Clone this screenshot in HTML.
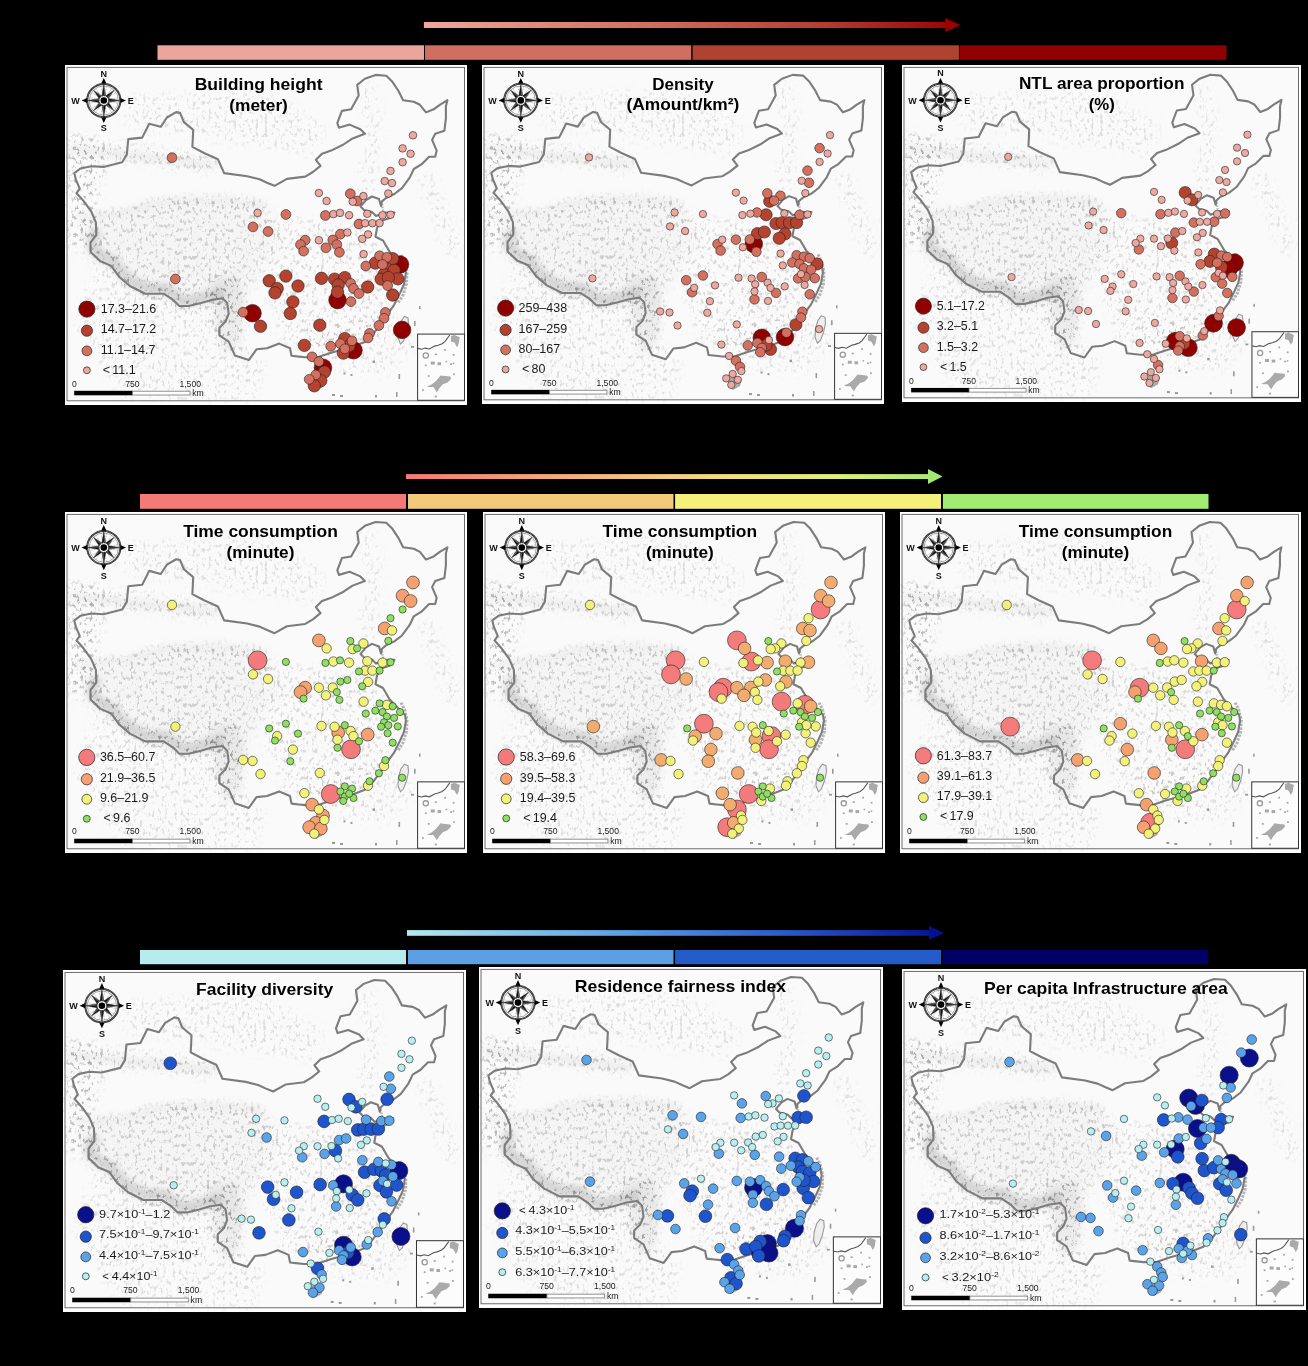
<!DOCTYPE html>
<html><head><meta charset="utf-8"><style>
html,body{margin:0;padding:0;background:#000;}
body{width:1308px;height:1366px;overflow:hidden;}
svg{display:block;}
</style></head><body>
<svg width="1308" height="1366" viewBox="0 0 1308 1366">
<rect width="1308" height="1366" fill="#000"/>
<defs><filter id="bl3" x="-20%" y="-20%" width="140%" height="140%"><feGaussianBlur stdDeviation="3"/></filter><filter id="bl6" x="-20%" y="-20%" width="140%" height="140%"><feGaussianBlur stdDeviation="6"/></filter><filter id="grain" x="0" y="0" width="402" height="340" filterUnits="userSpaceOnUse"><feGaussianBlur in="SourceGraphic" stdDeviation="5" result="m"/><feTurbulence type="fractalNoise" baseFrequency="0.32 0.22" numOctaves="3" seed="11" result="n"/><feColorMatrix in="n" type="matrix" values="0 0 0 0 0.36  0 0 0 0 0.34  0 0 0 0 0.33  -5.5 0 0 0 2.45" result="g"/><feComposite in="g" in2="m" operator="in"/></filter><g id="base">
<rect x="0" y="0" width="402" height="340" fill="#fff"/>
<rect x="2" y="2.4" width="397.5" height="333.4" fill="#fafafa"/>
<g filter="url(#grain)">
<polygon points="12,151 23,149 45,148 61,146 80,140 99,135.5 125,134 153,134 175,135 199,138.5 210,160 214,178 200,195 190,215 178,240 170,262 163,250 157.5,233.3 146.7,234.9 135.9,238 123.6,241 114.3,241 108.1,234.9 98.8,228.7 80.3,228.7 64.9,221 54.1,211.7 46.3,200.9 35.5,196.3 25.5,187 25.5,177.7 31.3,169.9 22,165 12,150" fill="#000" opacity="0.42"/>
<polygon points="3,70 30,72 40,100 30,140 20,175 3,190" fill="#000" opacity="0.7"/>
<polyline points="5,82 40,86 80,90 120,95 150,100" fill="none" stroke="#000" stroke-width="16" opacity="0.55"/>
<polygon points="60,30 200,25 260,60 250,90 180,80 120,70 60,60" fill="#000" opacity="0.3"/>
<polygon points="200,150 300,160 330,200 320,260 280,290 220,280 200,230" fill="#000" opacity="0.35"/>
<polygon points="30,200 150,245 200,300 190,335 60,335 10,260" fill="#000" opacity="0.3"/>
<polygon points="240,260 330,250 350,280 320,310 250,305" fill="#000" opacity="0.3"/>
<polyline points="300,20 310,60 305,100 300,130" fill="none" stroke="#000" stroke-width="16" opacity="0.3"/>
<polyline points="360,110 375,150 390,190" fill="none" stroke="#000" stroke-width="16" opacity="0.3"/>
<polyline points="405,150 425,200 440,250" fill="none" stroke="#000" stroke-width="14" opacity="0.25"/>
<polyline points="32.3,165.9 26.5,173.7 26.5,183 36.5,192.3 47.3,196.9 55.1,207.7 65.9,217 81.3,224.7 99.8,224.7 109.1,230.9 115.3,237 124.6,237 136.9,234 147.7,230.9 158.5,229.3" fill="none" stroke="#000" stroke-width="12" opacity="0.9"/>
<polyline points="12,154 23,152 45,151 61,149 80,143 99,138.5 125,137 153,137 175,138 199,141.5" fill="none" stroke="#000" stroke-width="7" opacity="0.75"/>
<polygon points="145,215 172,210 180,240 175,280 160,290 150,260" fill="#000" opacity="0.8"/>
</g>
<g filter="url(#bl6)">
<polygon points="12,151 23,149 45,148 61,146 80,140 99,135.5 125,134 153,134 175,135 199,138.5 210,160 214,178 200,195 190,215 178,240 170,262 163,250 157.5,233.3 146.7,234.9 135.9,238 123.6,241 114.3,241 108.1,234.9 98.8,228.7 80.3,228.7 64.9,221 54.1,211.7 46.3,200.9 35.5,196.3 25.5,187 25.5,177.7 31.3,169.9 22,165 12,150" fill="#000" opacity="0.02"/>
</g>
<g filter="url(#bl3)">
<polyline points="32.8,164.9 27.0,172.7 27.0,182 37.0,191.3 47.8,195.9 55.6,206.7 66.4,216 81.8,223.7 100.3,223.7 109.6,229.9 115.8,236 125.1,236 137.4,233 148.2,229.9 159.0,228.3" fill="none" stroke="#000" stroke-width="10" opacity="0.14"/>
<polyline points="12,152.5 23,150.5 45,149.5 61,147.5 80,141.5 99,137.0 125,135.5 153,135.5 175,136.5 199,140.0" fill="none" stroke="#000" stroke-width="3" opacity="0.07"/>
<polyline points="5,84 40,88 80,92 120,96 150,100" fill="none" stroke="#000" stroke-width="8" opacity="0.05"/>
<polygon points="145,215 172,210 180,240 175,280 160,290 150,260" fill="#000" opacity="0.05"/>
</g>
<path d="M339.5,251.5 L343,253 L343.5,259 L341.5,268 L338.5,276 L335.5,279 L333,273 L333.5,264 L336,256 Z" fill="#eee" stroke="#999" stroke-width="1.1"/>
<path d="M247,314 L255,312 L260,315 L258,322 L251,326 L246,322 Z" fill="#aaa"/>
<rect x="354" y="241" width="1.6" height="3" fill="#999"/>
<rect x="349" y="256" width="1.6" height="5" fill="#999"/>
<rect x="346" y="281" width="3" height="1.8" fill="#999"/>
<rect x="307.5" y="295.5" width="2.5" height="2.5" fill="#999"/>
<rect x="333.5" y="309" width="1.6" height="5" fill="#999"/>
<rect x="278.5" y="307.5" width="2" height="2" fill="#999"/>
<rect x="285.5" y="309" width="2" height="2" fill="#999"/>
<rect x="310" y="330" width="2" height="2.5" fill="#999"/>
<rect x="331" y="327" width="1.5" height="5" fill="#999"/>
<rect x="267" y="329" width="3" height="2" fill="#999"/>
<rect x="275" y="330" width="3" height="2" fill="#999"/>
<polyline points="336,190 339.5,197 342,207 341.5,219 338,230 333,238" fill="none" stroke="#b4b4b4" stroke-width="3" stroke-dasharray="2.5 1.2"/>
<polyline points="317,139 318,145 319,151" fill="none" stroke="#b4b4b4" stroke-width="2.2" stroke-dasharray="1.5 1.2"/>
<polygon points="9.3,108.1 15.4,103.5 26.3,101.2 38.6,101.9 57.1,97.3 61.8,89.6 63.3,74.1 77.2,72.6 84.2,58.7 95.8,61.8 101.9,52.5 111.2,47.1 115.1,47.9 118.9,57.1 128.2,64.9 127.4,81.9 139,88 152.9,94.2 159.1,108.1 182.2,111.2 194.6,114.3 202,117.7 209.6,120.8 221.9,113.9 240.2,111.6 247.9,107 255.5,100.9 250.9,94.8 257,88.7 266.2,85.6 278.5,79.5 287.6,73.4 299.9,68.8 295.3,64.2 284.6,59.6 273.9,62.7 272.3,58.1 276.9,45.9 286.1,44.3 293.7,30.6 292.2,19.9 299.9,13.8 310.6,9.9 321.3,10.7 327.4,16.8 333.5,26 338.1,35.2 348.8,36.7 354.9,39.8 361,47.4 368.7,44.3 374.8,39.8 382.4,35.2 380.9,41.3 380.9,53.5 379.4,65.7 370.2,68.8 367.1,74.9 371.7,85.6 370.2,91.7 364.1,91.7 356.4,99.4 348.8,104 344.7,112.6 337,123.1 329.4,129 321,133 317,136.4 316,141 314,134 307,131.5 301,135 295.5,141.5 299,145 307,147 311,151 320,147.5 329.5,147.5 325,153 316,156 312,163 310.5,171.7 318,175.5 324.7,186.9 331.3,193.6 339.9,202.1 340.9,207.9 339,219.3 335,228.1 328.9,240.3 324.3,246.5 318.2,255.6 309,267.9 299.9,277 287.6,281.6 266.2,287.7 252.5,292.3 240.2,292.3 226.5,290.8 225,283.2 214.2,278.6 202,283.2 191.5,284.3 183.8,295.1 169.9,290.5 163.7,276.6 154.4,270.4 154.4,262.7 160.6,256.5 163.7,248.8 162.2,238 157.5,233.3 146.7,234.9 135.9,238 123.6,241 114.3,241 108.1,234.9 98.8,228.7 80.3,228.7 64.9,221 54.1,211.7 46.3,200.9 35.5,196.3 25.5,187 25.5,177.7 31.3,169.9 30.9,157.5 26.3,146.7 18.5,135.9 11.6,128.2 14.7,123.6 10.8,114.3" fill="none" stroke="#7c7c7c" stroke-width="2.1" stroke-linejoin="round"/>
<rect x="2" y="2.4" width="397.5" height="333.4" fill="none" stroke="#6a6a6a" stroke-width="1"/>
<circle cx="38.8" cy="35.5" r="16.6" fill="#fff" stroke="#333" stroke-width="2.0"/>
<circle cx="38.8" cy="35.5" r="16.6" fill="none" stroke="#ddd" stroke-width="0.5" stroke-dasharray="0.7 0.9"/>
<circle cx="38.8" cy="35.5" r="14.6" fill="none" stroke="#555" stroke-width="0.5"/>
<line x1="44.68" y1="36.67" x2="53.02" y2="38.33" stroke="#666" stroke-width="0.5" stroke-dasharray="0.8 0.8"/>
<line x1="43.79" y1="38.83" x2="50.86" y2="43.56" stroke="#666" stroke-width="0.5" stroke-dasharray="0.8 0.8"/>
<line x1="42.13" y1="40.49" x2="46.86" y2="47.56" stroke="#666" stroke-width="0.5" stroke-dasharray="0.8 0.8"/>
<line x1="39.97" y1="41.38" x2="41.63" y2="49.72" stroke="#666" stroke-width="0.5" stroke-dasharray="0.8 0.8"/>
<line x1="37.63" y1="41.38" x2="35.97" y2="49.72" stroke="#666" stroke-width="0.5" stroke-dasharray="0.8 0.8"/>
<line x1="35.47" y1="40.49" x2="30.74" y2="47.56" stroke="#666" stroke-width="0.5" stroke-dasharray="0.8 0.8"/>
<line x1="33.81" y1="38.83" x2="26.74" y2="43.56" stroke="#666" stroke-width="0.5" stroke-dasharray="0.8 0.8"/>
<line x1="32.92" y1="36.67" x2="24.58" y2="38.33" stroke="#666" stroke-width="0.5" stroke-dasharray="0.8 0.8"/>
<line x1="32.92" y1="34.33" x2="24.58" y2="32.67" stroke="#666" stroke-width="0.5" stroke-dasharray="0.8 0.8"/>
<line x1="33.81" y1="32.17" x2="26.74" y2="27.44" stroke="#666" stroke-width="0.5" stroke-dasharray="0.8 0.8"/>
<line x1="35.47" y1="30.51" x2="30.74" y2="23.44" stroke="#666" stroke-width="0.5" stroke-dasharray="0.8 0.8"/>
<line x1="37.63" y1="29.62" x2="35.97" y2="21.28" stroke="#666" stroke-width="0.5" stroke-dasharray="0.8 0.8"/>
<line x1="39.97" y1="29.62" x2="41.63" y2="21.28" stroke="#666" stroke-width="0.5" stroke-dasharray="0.8 0.8"/>
<line x1="42.13" y1="30.51" x2="46.86" y2="23.44" stroke="#666" stroke-width="0.5" stroke-dasharray="0.8 0.8"/>
<line x1="43.79" y1="32.17" x2="50.86" y2="27.44" stroke="#666" stroke-width="0.5" stroke-dasharray="0.8 0.8"/>
<line x1="44.68" y1="34.33" x2="53.02" y2="32.67" stroke="#666" stroke-width="0.5" stroke-dasharray="0.8 0.8"/>
<polygon points="38.8,19.5 40.71,30.88 49.12,25.18 43.42,33.59 54.8,35.5 43.42,37.41 49.12,45.82 40.71,40.12 38.8,51.5 36.89,40.12 28.48,45.82 34.18,37.41 22.8,35.5 34.18,33.59 28.48,25.18 36.89,30.88" fill="#111" stroke="#111" stroke-width="0.4" stroke-linejoin="miter"/>
<polygon points="38.80,19.50 40.71,30.88 38.80,33.50" fill="#fff" opacity="0.28"/>
<polygon points="49.12,25.18 43.42,33.59 40.21,34.09" fill="#fff" opacity="0.28"/>
<polygon points="54.80,35.50 43.42,37.41 40.80,35.50" fill="#fff" opacity="0.28"/>
<polygon points="49.12,45.82 40.71,40.12 40.21,36.91" fill="#fff" opacity="0.28"/>
<polygon points="38.80,51.50 36.89,40.12 38.80,37.50" fill="#fff" opacity="0.28"/>
<polygon points="28.48,45.82 34.18,37.41 37.39,36.91" fill="#fff" opacity="0.28"/>
<polygon points="22.80,35.50 34.18,33.59 36.80,35.50" fill="#fff" opacity="0.28"/>
<polygon points="28.48,25.18 36.89,30.88 37.39,34.09" fill="#fff" opacity="0.28"/>
<circle cx="38.8" cy="35.5" r="5.0" fill="#fff" stroke="#222" stroke-width="0.6"/>
<circle cx="38.8" cy="35.5" r="5.0" fill="none" stroke="#333" stroke-width="1.2" stroke-dasharray="0.9 1.2"/>
<circle cx="38.8" cy="35.5" r="3.3" fill="#000"/>
<polygon points="38.8,13.0 36.199999999999996,18.6 41.4,18.6" fill="#000"/>
<polygon points="38.8,58.0 36.199999999999996,52.4 41.4,52.4" fill="#000"/>
<polygon points="16.6,35.5 22.2,32.9 22.2,38.1" fill="#000"/>
<polygon points="61.0,35.5 55.4,32.9 55.4,38.1" fill="#000"/>
<text x="38.8" y="11.6" text-anchor="middle" style="font-family:'Liberation Sans', sans-serif;font-weight:bold;font-size:9px;fill:#111">N</text>
<text x="38.8" y="66.4" text-anchor="middle" style="font-family:'Liberation Sans', sans-serif;font-weight:bold;font-size:9px;fill:#111">S</text>
<text x="10.6" y="39.1" text-anchor="middle" style="font-family:'Liberation Sans', sans-serif;font-weight:bold;font-size:9px;fill:#111">W</text>
<text x="65.7" y="39.1" text-anchor="middle" style="font-family:'Liberation Sans', sans-serif;font-weight:bold;font-size:9px;fill:#111">E</text>
<rect x="352.6" y="269.1" width="46.89999999999998" height="66.19999999999999" fill="#fcfcfc"/>
<polyline points="352.9,283.4 356.7,284.2 360.2,283.1 364.3,284 369.6,281.1 373.1,280.2 377.2,278.7 380.1,276.4 383.1,272.3 384.8,270" fill="none" stroke="#555" stroke-width="1.1"/>
<polygon points="385.9,271.1 389.4,270 394.8,272.3 393.6,279.3 391.9,282.3 389.4,277.6 385.9,276.4" fill="#aaa"/>
<circle cx="360.8" cy="290.5" r="2.6" fill="none" stroke="#999" stroke-width="1.3"/>
<rect x="369.7" y="288.5" width="2.2" height="1.6" fill="#a8a8a8"/>
<rect x="379.2" y="284.0" width="1.8" height="1.8" fill="#a8a8a8"/>
<rect x="387.7" y="289.0" width="1.8" height="1.8" fill="#a8a8a8"/>
<rect x="365.8" y="296.6" width="4" height="3" fill="#a8a8a8"/>
<rect x="372.5" y="297.2" width="3.6" height="3" fill="#a8a8a8"/>
<rect x="380.5" y="295.8" width="1.6" height="1.6" fill="#a8a8a8"/>
<rect x="385.0" y="298.4" width="2" height="1.6" fill="#a8a8a8"/>
<rect x="387.6" y="297.6" width="1.6" height="1.6" fill="#a8a8a8"/>
<rect x="359.9" y="299.5" width="1.8" height="1.8" fill="#a8a8a8"/>
<rect x="362.8" y="310.1" width="1.8" height="1.8" fill="#a8a8a8"/>
<rect x="388.0" y="308.3" width="1.8" height="1.8" fill="#a8a8a8"/>
<rect x="369.7" y="330.6" width="2.2" height="1.8" fill="#a8a8a8"/>
<rect x="357.0" y="324.1" width="1.8" height="1.8" fill="#a8a8a8"/>
<polygon points="362,321.5 366.1,319.8 370.8,316.2 375.5,310.4 380.1,311 385.4,311.6 386,313.9 382.5,317.4 377.8,319.2 374.3,323.3 371.9,327.4 370.8,325.6 368.4,322.1 363.7,322.1" fill="#aaa"/>
<rect x="352.6" y="269.1" width="46.89999999999998" height="66.19999999999999" fill="none" stroke="#333" stroke-width="1"/>
<rect x="9.2" y="325.8" width="58.4" height="4.5" fill="#000"/>
<rect x="67.6" y="326.2" width="57.4" height="3.8" fill="#fff" stroke="#777" stroke-width="0.8"/>
<text x="9.4" y="321.5" text-anchor="middle" style="font-family:'Liberation Sans', sans-serif;font-size:8.6px;fill:#222">0</text>
<text x="67.3" y="321.5" text-anchor="middle" style="font-family:'Liberation Sans', sans-serif;font-size:8.6px;fill:#222">750</text>
<text x="125.2" y="321.5" text-anchor="middle" style="font-family:'Liberation Sans', sans-serif;font-size:8.6px;fill:#222">1,500</text>
<text x="127.3" y="330.8" style="font-family:'Liberation Sans', sans-serif;font-size:8.6px;fill:#222">km</text>
</g></defs>
<defs>
<linearGradient id="g1" gradientUnits="userSpaceOnUse" x1="424" y1="0" x2="960" y2="0"><stop offset="0" stop-color="#eda79c"/><stop offset="0.45" stop-color="#cf6a59"/><stop offset="0.75" stop-color="#b23d2f"/><stop offset="1" stop-color="#990000"/></linearGradient>
<linearGradient id="g2" gradientUnits="userSpaceOnUse" x1="406" y1="0" x2="942" y2="0"><stop offset="0" stop-color="#f47a76"/><stop offset="0.35" stop-color="#f3b878"/><stop offset="0.6" stop-color="#f3e07a"/><stop offset="0.8" stop-color="#e2ef78"/><stop offset="1" stop-color="#a2e873"/></linearGradient>
<linearGradient id="g3" gradientUnits="userSpaceOnUse" x1="407" y1="0" x2="944" y2="0"><stop offset="0" stop-color="#b3eaec"/><stop offset="0.4" stop-color="#5ca0e3"/><stop offset="0.7" stop-color="#2a5bc9"/><stop offset="1" stop-color="#05108c"/></linearGradient>
</defs>
<rect x="157.5" y="45.3" width="266.5" height="14.5" fill="#eba59b"/>
<rect x="425" y="45.3" width="266.20000000000005" height="14.5" fill="#d06f5f"/>
<rect x="692.6" y="45.3" width="266.4" height="14.5" fill="#b04232"/>
<rect x="960" y="45.3" width="266.4000000000001" height="14.5" fill="#900000"/>
<rect x="423.9" y="22" width="522" height="6" fill="url(#g1)"/>
<polygon points="945.3,18 960.5,25 945.3,32" fill="#990000"/>
<rect x="140" y="494" width="266" height="14.8" fill="#f47a78"/>
<rect x="408" y="494" width="265.5" height="14.8" fill="#f3c97a"/>
<rect x="675.1" y="494" width="265.9" height="14.8" fill="#f3f17a"/>
<rect x="942.9" y="494" width="265.6" height="14.8" fill="#a0ed72"/>
<rect x="406" y="474.1" width="523" height="4.9" fill="url(#g2)"/>
<polygon points="928,469 942.5,476.5 928,484" fill="#a4e874"/>
<rect x="140" y="950" width="266" height="14.2" fill="#b6ecee"/>
<rect x="408" y="950" width="265.5" height="14.2" fill="#5ca0e3"/>
<rect x="675.1" y="950" width="265.9" height="14.2" fill="#235bc9"/>
<rect x="942.9" y="950" width="265.4" height="14.2" fill="#000066"/>
<rect x="407" y="930.1" width="523" height="5.7" fill="url(#g3)"/>
<polygon points="929,926 944,933 929,940" fill="#05108c"/>
<g transform="translate(65,65) scale(1.0000,1.0000)">
<use href="#base"/>
<circle cx="187.5" cy="248.2" r="8.8" fill="#900000" stroke="#222" stroke-width="0.6"/>
<circle cx="272.5" cy="235.1" r="8.8" fill="#900000" stroke="#222" stroke-width="0.6"/>
<circle cx="335" cy="199.5" r="8.8" fill="#900000" stroke="#222" stroke-width="0.6"/>
<circle cx="337.1" cy="264.9" r="8.8" fill="#900000" stroke="#222" stroke-width="0.6"/>
<circle cx="288.5" cy="285.2" r="8.8" fill="#900000" stroke="#222" stroke-width="0.6"/>
<circle cx="258" cy="302.7" r="8.8" fill="#900000" stroke="#222" stroke-width="0.6"/>
<circle cx="204.2" cy="215.8" r="6.2" fill="#b5412f" stroke="#222" stroke-width="0.6"/>
<circle cx="220.9" cy="211.1" r="6.2" fill="#b5412f" stroke="#222" stroke-width="0.6"/>
<circle cx="212.2" cy="223.5" r="6.2" fill="#b5412f" stroke="#222" stroke-width="0.6"/>
<circle cx="210" cy="227.9" r="6.2" fill="#b5412f" stroke="#222" stroke-width="0.6"/>
<circle cx="233" cy="221" r="6.2" fill="#b5412f" stroke="#222" stroke-width="0.6"/>
<circle cx="227.9" cy="236.9" r="6.2" fill="#b5412f" stroke="#222" stroke-width="0.6"/>
<circle cx="225.3" cy="248.5" r="6.2" fill="#b5412f" stroke="#222" stroke-width="0.6"/>
<circle cx="195.5" cy="261.3" r="6.2" fill="#b5412f" stroke="#222" stroke-width="0.6"/>
<circle cx="256.5" cy="213.3" r="6.2" fill="#b5412f" stroke="#222" stroke-width="0.6"/>
<circle cx="269.6" cy="214.1" r="6.2" fill="#b5412f" stroke="#222" stroke-width="0.6"/>
<circle cx="279.8" cy="212.6" r="6.2" fill="#b5412f" stroke="#222" stroke-width="0.6"/>
<circle cx="273.2" cy="219.9" r="6.2" fill="#b5412f" stroke="#222" stroke-width="0.6"/>
<circle cx="272.5" cy="227.1" r="6.2" fill="#b5412f" stroke="#222" stroke-width="0.6"/>
<circle cx="302.7" cy="222" r="6.2" fill="#b5412f" stroke="#222" stroke-width="0.6"/>
<circle cx="327.7" cy="193.7" r="6.2" fill="#b5412f" stroke="#222" stroke-width="0.6"/>
<circle cx="310.3" cy="198.1" r="6.2" fill="#b5412f" stroke="#222" stroke-width="0.6"/>
<circle cx="321.9" cy="203.9" r="6.2" fill="#b5412f" stroke="#222" stroke-width="0.6"/>
<circle cx="319" cy="209.7" r="6.2" fill="#b5412f" stroke="#222" stroke-width="0.6"/>
<circle cx="329.1" cy="205.3" r="6.2" fill="#b5412f" stroke="#222" stroke-width="0.6"/>
<circle cx="316.1" cy="214.1" r="6.2" fill="#b5412f" stroke="#222" stroke-width="0.6"/>
<circle cx="332.8" cy="213.8" r="6.2" fill="#b5412f" stroke="#222" stroke-width="0.6"/>
<circle cx="327.7" cy="230" r="6.2" fill="#b5412f" stroke="#222" stroke-width="0.6"/>
<circle cx="323.3" cy="212.6" r="6.2" fill="#b5412f" stroke="#222" stroke-width="0.6"/>
<circle cx="254.8" cy="260.2" r="6.2" fill="#b5412f" stroke="#222" stroke-width="0.6"/>
<circle cx="239.4" cy="280.4" r="6.2" fill="#b5412f" stroke="#222" stroke-width="0.6"/>
<circle cx="279.8" cy="273.6" r="6.2" fill="#b5412f" stroke="#222" stroke-width="0.6"/>
<circle cx="278.3" cy="288.1" r="6.2" fill="#b5412f" stroke="#222" stroke-width="0.6"/>
<circle cx="284.1" cy="280.9" r="6.2" fill="#b5412f" stroke="#222" stroke-width="0.6"/>
<circle cx="259.4" cy="307" r="6.2" fill="#b5412f" stroke="#222" stroke-width="0.6"/>
<circle cx="255.8" cy="315.7" r="6.2" fill="#b5412f" stroke="#222" stroke-width="0.6"/>
<circle cx="249.3" cy="320.8" r="6.2" fill="#b5412f" stroke="#222" stroke-width="0.6"/>
<circle cx="285.3" cy="128.7" r="4.9" fill="#d4705f" stroke="#222" stroke-width="0.6"/>
<circle cx="292.1" cy="136" r="4.9" fill="#d4705f" stroke="#222" stroke-width="0.6"/>
<circle cx="220.9" cy="149.5" r="4.9" fill="#d4705f" stroke="#222" stroke-width="0.6"/>
<circle cx="188" cy="161.9" r="4.9" fill="#d4705f" stroke="#222" stroke-width="0.6"/>
<circle cx="203.1" cy="166.5" r="4.9" fill="#d4705f" stroke="#222" stroke-width="0.6"/>
<circle cx="260.4" cy="150.5" r="4.9" fill="#d4705f" stroke="#222" stroke-width="0.6"/>
<circle cx="294" cy="159" r="4.9" fill="#d4705f" stroke="#222" stroke-width="0.6"/>
<circle cx="275.4" cy="169.1" r="4.9" fill="#d4705f" stroke="#222" stroke-width="0.6"/>
<circle cx="267.8" cy="175" r="4.9" fill="#d4705f" stroke="#222" stroke-width="0.6"/>
<circle cx="271.8" cy="179.6" r="4.9" fill="#d4705f" stroke="#222" stroke-width="0.6"/>
<circle cx="240.2" cy="175.2" r="4.9" fill="#d4705f" stroke="#222" stroke-width="0.6"/>
<circle cx="235.5" cy="179.6" r="4.9" fill="#d4705f" stroke="#222" stroke-width="0.6"/>
<circle cx="238.6" cy="186.1" r="4.9" fill="#d4705f" stroke="#222" stroke-width="0.6"/>
<circle cx="260.9" cy="182.8" r="4.9" fill="#d4705f" stroke="#222" stroke-width="0.6"/>
<circle cx="274.4" cy="187.3" r="4.9" fill="#d4705f" stroke="#222" stroke-width="0.6"/>
<circle cx="107" cy="92.7" r="4.9" fill="#d4705f" stroke="#222" stroke-width="0.6"/>
<circle cx="110.4" cy="214" r="4.9" fill="#d4705f" stroke="#222" stroke-width="0.6"/>
<circle cx="178.1" cy="247.2" r="4.9" fill="#d4705f" stroke="#222" stroke-width="0.6"/>
<circle cx="285.6" cy="218.4" r="4.9" fill="#d4705f" stroke="#222" stroke-width="0.6"/>
<circle cx="288.5" cy="223.5" r="4.9" fill="#d4705f" stroke="#222" stroke-width="0.6"/>
<circle cx="294" cy="228.6" r="4.9" fill="#d4705f" stroke="#222" stroke-width="0.6"/>
<circle cx="286" cy="236.6" r="4.9" fill="#d4705f" stroke="#222" stroke-width="0.6"/>
<circle cx="300.8" cy="201" r="4.9" fill="#d4705f" stroke="#222" stroke-width="0.6"/>
<circle cx="314.6" cy="190.8" r="4.9" fill="#d4705f" stroke="#222" stroke-width="0.6"/>
<circle cx="321.9" cy="192.3" r="4.9" fill="#d4705f" stroke="#222" stroke-width="0.6"/>
<circle cx="317.5" cy="199.5" r="4.9" fill="#d4705f" stroke="#222" stroke-width="0.6"/>
<circle cx="322.6" cy="220.6" r="4.9" fill="#d4705f" stroke="#222" stroke-width="0.6"/>
<circle cx="320.4" cy="247.5" r="4.9" fill="#d4705f" stroke="#222" stroke-width="0.6"/>
<circle cx="319" cy="253.3" r="4.9" fill="#d4705f" stroke="#222" stroke-width="0.6"/>
<circle cx="313.9" cy="260.5" r="4.9" fill="#d4705f" stroke="#222" stroke-width="0.6"/>
<circle cx="304.5" cy="268.5" r="4.9" fill="#d4705f" stroke="#222" stroke-width="0.6"/>
<circle cx="303" cy="272.9" r="4.9" fill="#d4705f" stroke="#222" stroke-width="0.6"/>
<circle cx="265.7" cy="281.2" r="4.9" fill="#d4705f" stroke="#222" stroke-width="0.6"/>
<circle cx="275.4" cy="278.7" r="4.9" fill="#d4705f" stroke="#222" stroke-width="0.6"/>
<circle cx="287" cy="275.8" r="4.9" fill="#d4705f" stroke="#222" stroke-width="0.6"/>
<circle cx="279.8" cy="283.8" r="4.9" fill="#d4705f" stroke="#222" stroke-width="0.6"/>
<circle cx="247.1" cy="291.8" r="4.9" fill="#d4705f" stroke="#222" stroke-width="0.6"/>
<circle cx="253.9" cy="296.6" r="4.9" fill="#d4705f" stroke="#222" stroke-width="0.6"/>
<circle cx="250.7" cy="309.9" r="4.9" fill="#d4705f" stroke="#222" stroke-width="0.6"/>
<circle cx="244.2" cy="314.3" r="4.9" fill="#d4705f" stroke="#222" stroke-width="0.6"/>
<circle cx="337.6" cy="83.4" r="3.8" fill="#eda8a0" stroke="#222" stroke-width="0.6"/>
<circle cx="345.6" cy="88.8" r="3.8" fill="#eda8a0" stroke="#222" stroke-width="0.6"/>
<circle cx="337.6" cy="97.2" r="3.8" fill="#eda8a0" stroke="#222" stroke-width="0.6"/>
<circle cx="325.5" cy="105.9" r="3.8" fill="#eda8a0" stroke="#222" stroke-width="0.6"/>
<circle cx="319.7" cy="116.1" r="3.8" fill="#eda8a0" stroke="#222" stroke-width="0.6"/>
<circle cx="327" cy="118.1" r="3.8" fill="#eda8a0" stroke="#222" stroke-width="0.6"/>
<circle cx="323.3" cy="128.5" r="3.8" fill="#eda8a0" stroke="#222" stroke-width="0.6"/>
<circle cx="253.9" cy="128" r="3.8" fill="#eda8a0" stroke="#222" stroke-width="0.6"/>
<circle cx="261.6" cy="136" r="3.8" fill="#eda8a0" stroke="#222" stroke-width="0.6"/>
<circle cx="298.4" cy="131.1" r="3.8" fill="#eda8a0" stroke="#222" stroke-width="0.6"/>
<circle cx="287.7" cy="136.7" r="3.8" fill="#eda8a0" stroke="#222" stroke-width="0.6"/>
<circle cx="192.6" cy="147.9" r="3.8" fill="#eda8a0" stroke="#222" stroke-width="0.6"/>
<circle cx="268.4" cy="149.1" r="3.8" fill="#eda8a0" stroke="#222" stroke-width="0.6"/>
<circle cx="275" cy="147.9" r="3.8" fill="#eda8a0" stroke="#222" stroke-width="0.6"/>
<circle cx="284.1" cy="150.2" r="3.8" fill="#eda8a0" stroke="#222" stroke-width="0.6"/>
<circle cx="302.3" cy="148.8" r="3.8" fill="#eda8a0" stroke="#222" stroke-width="0.6"/>
<circle cx="317.5" cy="150.2" r="3.8" fill="#eda8a0" stroke="#222" stroke-width="0.6"/>
<circle cx="325.5" cy="149.8" r="3.8" fill="#eda8a0" stroke="#222" stroke-width="0.6"/>
<circle cx="300.1" cy="158.2" r="3.8" fill="#eda8a0" stroke="#222" stroke-width="0.6"/>
<circle cx="307.4" cy="158.2" r="3.8" fill="#eda8a0" stroke="#222" stroke-width="0.6"/>
<circle cx="314.6" cy="158.1" r="3.8" fill="#eda8a0" stroke="#222" stroke-width="0.6"/>
<circle cx="303" cy="169.4" r="3.8" fill="#eda8a0" stroke="#222" stroke-width="0.6"/>
<circle cx="297.2" cy="173.8" r="3.8" fill="#eda8a0" stroke="#222" stroke-width="0.6"/>
<circle cx="282.4" cy="167.5" r="3.8" fill="#eda8a0" stroke="#222" stroke-width="0.6"/>
<circle cx="253.9" cy="175.2" r="3.8" fill="#eda8a0" stroke="#222" stroke-width="0.6"/>
<circle cx="298.6" cy="189.1" r="3.8" fill="#eda8a0" stroke="#222" stroke-width="0.6"/>
<circle cx="348" cy="70.3" r="3.8" fill="#eda8a0" stroke="#222" stroke-width="0.6"/>
<text x="193.6" y="24.7" text-anchor="middle" textLength="127.8" lengthAdjust="spacingAndGlyphs" style="font-family:'Liberation Sans', sans-serif;font-weight:bold;font-size:17px;fill:#000">Building height</text>
<text x="193.6" y="45.5" text-anchor="middle" textLength="58.5" lengthAdjust="spacingAndGlyphs" style="font-family:'Liberation Sans', sans-serif;font-weight:bold;font-size:17px;fill:#000">(meter)</text>
<circle cx="21.9" cy="244.1" r="8.1" fill="#900000" stroke="#222" stroke-width="0.7"/>
<text x="35.7" y="247.8" style="font-family:'Liberation Sans', sans-serif;font-size:12.5px;fill:#1a1a1a">17.3–21.6</text>
<circle cx="21.9" cy="265.7" r="5.6" fill="#b5412f" stroke="#222" stroke-width="0.7"/>
<text x="35.7" y="268.4" style="font-family:'Liberation Sans', sans-serif;font-size:12.5px;fill:#1a1a1a">14.7–17.2</text>
<circle cx="21.9" cy="285.9" r="4.9" fill="#d4705f" stroke="#222" stroke-width="0.7"/>
<text x="35.7" y="289.2" style="font-family:'Liberation Sans', sans-serif;font-size:12.5px;fill:#1a1a1a">11.1–14.7</text>
<circle cx="21.9" cy="305.3" r="3.45" fill="#eda8a0" stroke="#222" stroke-width="0.7"/>
<text x="37.8" y="309.2" style="font-family:'Liberation Sans', sans-serif;font-size:12.5px;fill:#1a1a1a">&lt;</text>
<text x="47.3" y="309.2" style="font-family:'Liberation Sans', sans-serif;font-size:12.5px;fill:#1a1a1a">11.1</text>
</g><g transform="translate(482,65) scale(1.0000,0.9971)">
<use href="#base"/>
<circle cx="271.8" cy="179.6" r="8.8" fill="#900000" stroke="#222" stroke-width="0.6"/>
<circle cx="303" cy="272.9" r="8.8" fill="#900000" stroke="#222" stroke-width="0.6"/>
<circle cx="279.8" cy="273.6" r="8.8" fill="#900000" stroke="#222" stroke-width="0.6"/>
<circle cx="287.7" cy="136.7" r="6.1" fill="#b5412f" stroke="#222" stroke-width="0.6"/>
<circle cx="284.1" cy="150.2" r="6.1" fill="#b5412f" stroke="#222" stroke-width="0.6"/>
<circle cx="294" cy="159" r="6.1" fill="#b5412f" stroke="#222" stroke-width="0.6"/>
<circle cx="300.1" cy="158.2" r="6.1" fill="#b5412f" stroke="#222" stroke-width="0.6"/>
<circle cx="307.4" cy="158.2" r="6.1" fill="#b5412f" stroke="#222" stroke-width="0.6"/>
<circle cx="314.6" cy="158.1" r="6.1" fill="#b5412f" stroke="#222" stroke-width="0.6"/>
<circle cx="303" cy="169.4" r="6.1" fill="#b5412f" stroke="#222" stroke-width="0.6"/>
<circle cx="297.2" cy="173.8" r="6.1" fill="#b5412f" stroke="#222" stroke-width="0.6"/>
<circle cx="275.4" cy="169.1" r="6.1" fill="#b5412f" stroke="#222" stroke-width="0.6"/>
<circle cx="282.4" cy="167.5" r="6.1" fill="#b5412f" stroke="#222" stroke-width="0.6"/>
<circle cx="335" cy="199.5" r="6.1" fill="#b5412f" stroke="#222" stroke-width="0.6"/>
<circle cx="313.9" cy="260.5" r="6.1" fill="#b5412f" stroke="#222" stroke-width="0.6"/>
<circle cx="288.5" cy="285.2" r="6.1" fill="#b5412f" stroke="#222" stroke-width="0.6"/>
<circle cx="284.1" cy="280.9" r="6.1" fill="#b5412f" stroke="#222" stroke-width="0.6"/>
<circle cx="337.6" cy="83.4" r="4.8" fill="#d4705f" stroke="#222" stroke-width="0.6"/>
<circle cx="325.5" cy="105.9" r="4.8" fill="#d4705f" stroke="#222" stroke-width="0.6"/>
<circle cx="327" cy="118.1" r="4.8" fill="#d4705f" stroke="#222" stroke-width="0.6"/>
<circle cx="285.3" cy="128.7" r="4.8" fill="#d4705f" stroke="#222" stroke-width="0.6"/>
<circle cx="298.4" cy="131.1" r="4.8" fill="#d4705f" stroke="#222" stroke-width="0.6"/>
<circle cx="292.1" cy="136" r="4.8" fill="#d4705f" stroke="#222" stroke-width="0.6"/>
<circle cx="275" cy="147.9" r="4.8" fill="#d4705f" stroke="#222" stroke-width="0.6"/>
<circle cx="317.5" cy="150.2" r="4.8" fill="#d4705f" stroke="#222" stroke-width="0.6"/>
<circle cx="267.8" cy="175" r="4.8" fill="#d4705f" stroke="#222" stroke-width="0.6"/>
<circle cx="253.9" cy="175.2" r="4.8" fill="#d4705f" stroke="#222" stroke-width="0.6"/>
<circle cx="235.5" cy="179.6" r="4.8" fill="#d4705f" stroke="#222" stroke-width="0.6"/>
<circle cx="238.6" cy="186.1" r="4.8" fill="#d4705f" stroke="#222" stroke-width="0.6"/>
<circle cx="274.4" cy="187.3" r="4.8" fill="#d4705f" stroke="#222" stroke-width="0.6"/>
<circle cx="204.2" cy="215.8" r="4.8" fill="#d4705f" stroke="#222" stroke-width="0.6"/>
<circle cx="220.9" cy="211.1" r="4.8" fill="#d4705f" stroke="#222" stroke-width="0.6"/>
<circle cx="210" cy="227.9" r="4.8" fill="#d4705f" stroke="#222" stroke-width="0.6"/>
<circle cx="279.8" cy="212.6" r="4.8" fill="#d4705f" stroke="#222" stroke-width="0.6"/>
<circle cx="272.5" cy="235.1" r="4.8" fill="#d4705f" stroke="#222" stroke-width="0.6"/>
<circle cx="294" cy="228.6" r="4.8" fill="#d4705f" stroke="#222" stroke-width="0.6"/>
<circle cx="314.6" cy="190.8" r="4.8" fill="#d4705f" stroke="#222" stroke-width="0.6"/>
<circle cx="321.9" cy="192.3" r="4.8" fill="#d4705f" stroke="#222" stroke-width="0.6"/>
<circle cx="327.7" cy="193.7" r="4.8" fill="#d4705f" stroke="#222" stroke-width="0.6"/>
<circle cx="310.3" cy="198.1" r="4.8" fill="#d4705f" stroke="#222" stroke-width="0.6"/>
<circle cx="317.5" cy="199.5" r="4.8" fill="#d4705f" stroke="#222" stroke-width="0.6"/>
<circle cx="321.9" cy="203.9" r="4.8" fill="#d4705f" stroke="#222" stroke-width="0.6"/>
<circle cx="329.1" cy="205.3" r="4.8" fill="#d4705f" stroke="#222" stroke-width="0.6"/>
<circle cx="316.1" cy="214.1" r="4.8" fill="#d4705f" stroke="#222" stroke-width="0.6"/>
<circle cx="332.8" cy="213.8" r="4.8" fill="#d4705f" stroke="#222" stroke-width="0.6"/>
<circle cx="327.7" cy="230" r="4.8" fill="#d4705f" stroke="#222" stroke-width="0.6"/>
<circle cx="323.3" cy="212.6" r="4.8" fill="#d4705f" stroke="#222" stroke-width="0.6"/>
<circle cx="320.4" cy="247.5" r="4.8" fill="#d4705f" stroke="#222" stroke-width="0.6"/>
<circle cx="319" cy="253.3" r="4.8" fill="#d4705f" stroke="#222" stroke-width="0.6"/>
<circle cx="304.5" cy="268.5" r="4.8" fill="#d4705f" stroke="#222" stroke-width="0.6"/>
<circle cx="265.7" cy="281.2" r="4.8" fill="#d4705f" stroke="#222" stroke-width="0.6"/>
<circle cx="275.4" cy="278.7" r="4.8" fill="#d4705f" stroke="#222" stroke-width="0.6"/>
<circle cx="279.8" cy="283.8" r="4.8" fill="#d4705f" stroke="#222" stroke-width="0.6"/>
<circle cx="278.3" cy="288.1" r="4.8" fill="#d4705f" stroke="#222" stroke-width="0.6"/>
<circle cx="253.9" cy="296.6" r="4.8" fill="#d4705f" stroke="#222" stroke-width="0.6"/>
<circle cx="258" cy="302.7" r="4.8" fill="#d4705f" stroke="#222" stroke-width="0.6"/>
<circle cx="345.6" cy="88.8" r="3.7" fill="#eda8a0" stroke="#222" stroke-width="0.6"/>
<circle cx="337.6" cy="97.2" r="3.7" fill="#eda8a0" stroke="#222" stroke-width="0.6"/>
<circle cx="319.7" cy="116.1" r="3.7" fill="#eda8a0" stroke="#222" stroke-width="0.6"/>
<circle cx="323.3" cy="128.5" r="3.7" fill="#eda8a0" stroke="#222" stroke-width="0.6"/>
<circle cx="253.9" cy="128" r="3.7" fill="#eda8a0" stroke="#222" stroke-width="0.6"/>
<circle cx="261.6" cy="136" r="3.7" fill="#eda8a0" stroke="#222" stroke-width="0.6"/>
<circle cx="192.6" cy="147.9" r="3.7" fill="#eda8a0" stroke="#222" stroke-width="0.6"/>
<circle cx="220.9" cy="149.5" r="3.7" fill="#eda8a0" stroke="#222" stroke-width="0.6"/>
<circle cx="188" cy="161.9" r="3.7" fill="#eda8a0" stroke="#222" stroke-width="0.6"/>
<circle cx="203.1" cy="166.5" r="3.7" fill="#eda8a0" stroke="#222" stroke-width="0.6"/>
<circle cx="260.4" cy="150.5" r="3.7" fill="#eda8a0" stroke="#222" stroke-width="0.6"/>
<circle cx="268.4" cy="149.1" r="3.7" fill="#eda8a0" stroke="#222" stroke-width="0.6"/>
<circle cx="302.3" cy="148.8" r="3.7" fill="#eda8a0" stroke="#222" stroke-width="0.6"/>
<circle cx="325.5" cy="149.8" r="3.7" fill="#eda8a0" stroke="#222" stroke-width="0.6"/>
<circle cx="240.2" cy="175.2" r="3.7" fill="#eda8a0" stroke="#222" stroke-width="0.6"/>
<circle cx="260.9" cy="182.8" r="3.7" fill="#eda8a0" stroke="#222" stroke-width="0.6"/>
<circle cx="107" cy="92.7" r="3.7" fill="#eda8a0" stroke="#222" stroke-width="0.6"/>
<circle cx="110.4" cy="214" r="3.7" fill="#eda8a0" stroke="#222" stroke-width="0.6"/>
<circle cx="212.2" cy="223.5" r="3.7" fill="#eda8a0" stroke="#222" stroke-width="0.6"/>
<circle cx="233" cy="221" r="3.7" fill="#eda8a0" stroke="#222" stroke-width="0.6"/>
<circle cx="227.9" cy="236.9" r="3.7" fill="#eda8a0" stroke="#222" stroke-width="0.6"/>
<circle cx="225.3" cy="248.5" r="3.7" fill="#eda8a0" stroke="#222" stroke-width="0.6"/>
<circle cx="187.5" cy="248.2" r="3.7" fill="#eda8a0" stroke="#222" stroke-width="0.6"/>
<circle cx="178.1" cy="247.2" r="3.7" fill="#eda8a0" stroke="#222" stroke-width="0.6"/>
<circle cx="195.5" cy="261.3" r="3.7" fill="#eda8a0" stroke="#222" stroke-width="0.6"/>
<circle cx="256.5" cy="213.3" r="3.7" fill="#eda8a0" stroke="#222" stroke-width="0.6"/>
<circle cx="269.6" cy="214.1" r="3.7" fill="#eda8a0" stroke="#222" stroke-width="0.6"/>
<circle cx="273.2" cy="219.9" r="3.7" fill="#eda8a0" stroke="#222" stroke-width="0.6"/>
<circle cx="272.5" cy="227.1" r="3.7" fill="#eda8a0" stroke="#222" stroke-width="0.6"/>
<circle cx="285.6" cy="218.4" r="3.7" fill="#eda8a0" stroke="#222" stroke-width="0.6"/>
<circle cx="288.5" cy="223.5" r="3.7" fill="#eda8a0" stroke="#222" stroke-width="0.6"/>
<circle cx="286" cy="236.6" r="3.7" fill="#eda8a0" stroke="#222" stroke-width="0.6"/>
<circle cx="302.7" cy="222" r="3.7" fill="#eda8a0" stroke="#222" stroke-width="0.6"/>
<circle cx="300.8" cy="201" r="3.7" fill="#eda8a0" stroke="#222" stroke-width="0.6"/>
<circle cx="298.6" cy="189.1" r="3.7" fill="#eda8a0" stroke="#222" stroke-width="0.6"/>
<circle cx="319" cy="209.7" r="3.7" fill="#eda8a0" stroke="#222" stroke-width="0.6"/>
<circle cx="322.6" cy="220.6" r="3.7" fill="#eda8a0" stroke="#222" stroke-width="0.6"/>
<circle cx="337.1" cy="264.9" r="3.7" fill="#eda8a0" stroke="#222" stroke-width="0.6"/>
<circle cx="254.8" cy="260.2" r="3.7" fill="#eda8a0" stroke="#222" stroke-width="0.6"/>
<circle cx="239.4" cy="280.4" r="3.7" fill="#eda8a0" stroke="#222" stroke-width="0.6"/>
<circle cx="287" cy="275.8" r="3.7" fill="#eda8a0" stroke="#222" stroke-width="0.6"/>
<circle cx="247.1" cy="291.8" r="3.7" fill="#eda8a0" stroke="#222" stroke-width="0.6"/>
<circle cx="259.4" cy="307" r="3.7" fill="#eda8a0" stroke="#222" stroke-width="0.6"/>
<circle cx="250.7" cy="309.9" r="3.7" fill="#eda8a0" stroke="#222" stroke-width="0.6"/>
<circle cx="244.2" cy="314.3" r="3.7" fill="#eda8a0" stroke="#222" stroke-width="0.6"/>
<circle cx="255.8" cy="315.7" r="3.7" fill="#eda8a0" stroke="#222" stroke-width="0.6"/>
<circle cx="249.3" cy="320.8" r="3.7" fill="#eda8a0" stroke="#222" stroke-width="0.6"/>
<circle cx="348" cy="70.3" r="3.7" fill="#eda8a0" stroke="#222" stroke-width="0.6"/>
<text x="200.9" y="24.7" text-anchor="middle" textLength="61.5" lengthAdjust="spacingAndGlyphs" style="font-family:'Liberation Sans', sans-serif;font-weight:bold;font-size:17px;fill:#000">Density</text>
<text x="200.9" y="45.5" text-anchor="middle" textLength="113" lengthAdjust="spacingAndGlyphs" style="font-family:'Liberation Sans', sans-serif;font-weight:bold;font-size:17px;fill:#000">(Amount/km²)</text>
<circle cx="23.6" cy="243.8" r="8.1" fill="#900000" stroke="#222" stroke-width="0.7"/>
<text x="36.5" y="247.8" style="font-family:'Liberation Sans', sans-serif;font-size:12.5px;fill:#1a1a1a">259–438</text>
<circle cx="23.6" cy="265.7" r="5.6" fill="#b5412f" stroke="#222" stroke-width="0.7"/>
<text x="36.5" y="268.4" style="font-family:'Liberation Sans', sans-serif;font-size:12.5px;fill:#1a1a1a">167–259</text>
<circle cx="23.6" cy="285.7" r="4.9" fill="#d4705f" stroke="#222" stroke-width="0.7"/>
<text x="36.5" y="289.2" style="font-family:'Liberation Sans', sans-serif;font-size:12.5px;fill:#1a1a1a">80–167</text>
<circle cx="23.6" cy="305.3" r="3.45" fill="#eda8a0" stroke="#222" stroke-width="0.7"/>
<text x="40.0" y="309.2" style="font-family:'Liberation Sans', sans-serif;font-size:12.5px;fill:#1a1a1a">&lt;</text>
<text x="49.5" y="309.2" style="font-family:'Liberation Sans', sans-serif;font-size:12.5px;fill:#1a1a1a">80</text>
</g><g transform="translate(902,65) scale(0.9925,0.9912)">
<use href="#base"/>
<circle cx="335" cy="199.5" r="9.0" fill="#900000" stroke="#222" stroke-width="0.6"/>
<circle cx="329.1" cy="205.3" r="9.0" fill="#900000" stroke="#222" stroke-width="0.6"/>
<circle cx="313.9" cy="260.5" r="9.0" fill="#900000" stroke="#222" stroke-width="0.6"/>
<circle cx="337.1" cy="264.9" r="9.0" fill="#900000" stroke="#222" stroke-width="0.6"/>
<circle cx="275.4" cy="278.7" r="9.0" fill="#900000" stroke="#222" stroke-width="0.6"/>
<circle cx="288.5" cy="285.2" r="9.0" fill="#900000" stroke="#222" stroke-width="0.6"/>
<circle cx="285.3" cy="128.7" r="6.1" fill="#b5412f" stroke="#222" stroke-width="0.6"/>
<circle cx="292.1" cy="136" r="6.1" fill="#b5412f" stroke="#222" stroke-width="0.6"/>
<circle cx="271.8" cy="179.6" r="6.1" fill="#b5412f" stroke="#222" stroke-width="0.6"/>
<circle cx="314.6" cy="190.8" r="6.1" fill="#b5412f" stroke="#222" stroke-width="0.6"/>
<circle cx="310.3" cy="198.1" r="6.1" fill="#b5412f" stroke="#222" stroke-width="0.6"/>
<circle cx="321.9" cy="203.9" r="6.1" fill="#b5412f" stroke="#222" stroke-width="0.6"/>
<circle cx="284.1" cy="280.9" r="6.1" fill="#b5412f" stroke="#222" stroke-width="0.6"/>
<circle cx="220.9" cy="149.5" r="4.8" fill="#d4705f" stroke="#222" stroke-width="0.6"/>
<circle cx="260.4" cy="150.5" r="4.8" fill="#d4705f" stroke="#222" stroke-width="0.6"/>
<circle cx="325.5" cy="149.8" r="4.8" fill="#d4705f" stroke="#222" stroke-width="0.6"/>
<circle cx="294" cy="159" r="4.8" fill="#d4705f" stroke="#222" stroke-width="0.6"/>
<circle cx="314.6" cy="158.1" r="4.8" fill="#d4705f" stroke="#222" stroke-width="0.6"/>
<circle cx="275.4" cy="169.1" r="4.8" fill="#d4705f" stroke="#222" stroke-width="0.6"/>
<circle cx="238.6" cy="186.1" r="4.8" fill="#d4705f" stroke="#222" stroke-width="0.6"/>
<circle cx="279.8" cy="212.6" r="4.8" fill="#d4705f" stroke="#222" stroke-width="0.6"/>
<circle cx="272.5" cy="235.1" r="4.8" fill="#d4705f" stroke="#222" stroke-width="0.6"/>
<circle cx="294" cy="228.6" r="4.8" fill="#d4705f" stroke="#222" stroke-width="0.6"/>
<circle cx="300.8" cy="201" r="4.8" fill="#d4705f" stroke="#222" stroke-width="0.6"/>
<circle cx="321.9" cy="192.3" r="4.8" fill="#d4705f" stroke="#222" stroke-width="0.6"/>
<circle cx="327.7" cy="193.7" r="4.8" fill="#d4705f" stroke="#222" stroke-width="0.6"/>
<circle cx="317.5" cy="199.5" r="4.8" fill="#d4705f" stroke="#222" stroke-width="0.6"/>
<circle cx="316.1" cy="214.1" r="4.8" fill="#d4705f" stroke="#222" stroke-width="0.6"/>
<circle cx="332.8" cy="213.8" r="4.8" fill="#d4705f" stroke="#222" stroke-width="0.6"/>
<circle cx="322.6" cy="220.6" r="4.8" fill="#d4705f" stroke="#222" stroke-width="0.6"/>
<circle cx="327.7" cy="230" r="4.8" fill="#d4705f" stroke="#222" stroke-width="0.6"/>
<circle cx="319" cy="253.3" r="4.8" fill="#d4705f" stroke="#222" stroke-width="0.6"/>
<circle cx="303" cy="272.9" r="4.8" fill="#d4705f" stroke="#222" stroke-width="0.6"/>
<circle cx="279.8" cy="273.6" r="4.8" fill="#d4705f" stroke="#222" stroke-width="0.6"/>
<circle cx="279.8" cy="283.8" r="4.8" fill="#d4705f" stroke="#222" stroke-width="0.6"/>
<circle cx="278.3" cy="288.1" r="4.8" fill="#d4705f" stroke="#222" stroke-width="0.6"/>
<circle cx="258" cy="302.7" r="4.8" fill="#d4705f" stroke="#222" stroke-width="0.6"/>
<circle cx="337.6" cy="83.4" r="3.7" fill="#eda8a0" stroke="#222" stroke-width="0.6"/>
<circle cx="345.6" cy="88.8" r="3.7" fill="#eda8a0" stroke="#222" stroke-width="0.6"/>
<circle cx="337.6" cy="97.2" r="3.7" fill="#eda8a0" stroke="#222" stroke-width="0.6"/>
<circle cx="325.5" cy="105.9" r="3.7" fill="#eda8a0" stroke="#222" stroke-width="0.6"/>
<circle cx="319.7" cy="116.1" r="3.7" fill="#eda8a0" stroke="#222" stroke-width="0.6"/>
<circle cx="327" cy="118.1" r="3.7" fill="#eda8a0" stroke="#222" stroke-width="0.6"/>
<circle cx="323.3" cy="128.5" r="3.7" fill="#eda8a0" stroke="#222" stroke-width="0.6"/>
<circle cx="253.9" cy="128" r="3.7" fill="#eda8a0" stroke="#222" stroke-width="0.6"/>
<circle cx="261.6" cy="136" r="3.7" fill="#eda8a0" stroke="#222" stroke-width="0.6"/>
<circle cx="298.4" cy="131.1" r="3.7" fill="#eda8a0" stroke="#222" stroke-width="0.6"/>
<circle cx="287.7" cy="136.7" r="3.7" fill="#eda8a0" stroke="#222" stroke-width="0.6"/>
<circle cx="192.6" cy="147.9" r="3.7" fill="#eda8a0" stroke="#222" stroke-width="0.6"/>
<circle cx="188" cy="161.9" r="3.7" fill="#eda8a0" stroke="#222" stroke-width="0.6"/>
<circle cx="203.1" cy="166.5" r="3.7" fill="#eda8a0" stroke="#222" stroke-width="0.6"/>
<circle cx="268.4" cy="149.1" r="3.7" fill="#eda8a0" stroke="#222" stroke-width="0.6"/>
<circle cx="275" cy="147.9" r="3.7" fill="#eda8a0" stroke="#222" stroke-width="0.6"/>
<circle cx="284.1" cy="150.2" r="3.7" fill="#eda8a0" stroke="#222" stroke-width="0.6"/>
<circle cx="302.3" cy="148.8" r="3.7" fill="#eda8a0" stroke="#222" stroke-width="0.6"/>
<circle cx="317.5" cy="150.2" r="3.7" fill="#eda8a0" stroke="#222" stroke-width="0.6"/>
<circle cx="300.1" cy="158.2" r="3.7" fill="#eda8a0" stroke="#222" stroke-width="0.6"/>
<circle cx="307.4" cy="158.2" r="3.7" fill="#eda8a0" stroke="#222" stroke-width="0.6"/>
<circle cx="303" cy="169.4" r="3.7" fill="#eda8a0" stroke="#222" stroke-width="0.6"/>
<circle cx="297.2" cy="173.8" r="3.7" fill="#eda8a0" stroke="#222" stroke-width="0.6"/>
<circle cx="282.4" cy="167.5" r="3.7" fill="#eda8a0" stroke="#222" stroke-width="0.6"/>
<circle cx="267.8" cy="175" r="3.7" fill="#eda8a0" stroke="#222" stroke-width="0.6"/>
<circle cx="253.9" cy="175.2" r="3.7" fill="#eda8a0" stroke="#222" stroke-width="0.6"/>
<circle cx="240.2" cy="175.2" r="3.7" fill="#eda8a0" stroke="#222" stroke-width="0.6"/>
<circle cx="235.5" cy="179.6" r="3.7" fill="#eda8a0" stroke="#222" stroke-width="0.6"/>
<circle cx="260.9" cy="182.8" r="3.7" fill="#eda8a0" stroke="#222" stroke-width="0.6"/>
<circle cx="274.4" cy="187.3" r="3.7" fill="#eda8a0" stroke="#222" stroke-width="0.6"/>
<circle cx="107" cy="92.7" r="3.7" fill="#eda8a0" stroke="#222" stroke-width="0.6"/>
<circle cx="110.4" cy="214" r="3.7" fill="#eda8a0" stroke="#222" stroke-width="0.6"/>
<circle cx="204.2" cy="215.8" r="3.7" fill="#eda8a0" stroke="#222" stroke-width="0.6"/>
<circle cx="220.9" cy="211.1" r="3.7" fill="#eda8a0" stroke="#222" stroke-width="0.6"/>
<circle cx="212.2" cy="223.5" r="3.7" fill="#eda8a0" stroke="#222" stroke-width="0.6"/>
<circle cx="210" cy="227.9" r="3.7" fill="#eda8a0" stroke="#222" stroke-width="0.6"/>
<circle cx="233" cy="221" r="3.7" fill="#eda8a0" stroke="#222" stroke-width="0.6"/>
<circle cx="227.9" cy="236.9" r="3.7" fill="#eda8a0" stroke="#222" stroke-width="0.6"/>
<circle cx="225.3" cy="248.5" r="3.7" fill="#eda8a0" stroke="#222" stroke-width="0.6"/>
<circle cx="187.5" cy="248.2" r="3.7" fill="#eda8a0" stroke="#222" stroke-width="0.6"/>
<circle cx="178.1" cy="247.2" r="3.7" fill="#eda8a0" stroke="#222" stroke-width="0.6"/>
<circle cx="195.5" cy="261.3" r="3.7" fill="#eda8a0" stroke="#222" stroke-width="0.6"/>
<circle cx="256.5" cy="213.3" r="3.7" fill="#eda8a0" stroke="#222" stroke-width="0.6"/>
<circle cx="269.6" cy="214.1" r="3.7" fill="#eda8a0" stroke="#222" stroke-width="0.6"/>
<circle cx="273.2" cy="219.9" r="3.7" fill="#eda8a0" stroke="#222" stroke-width="0.6"/>
<circle cx="272.5" cy="227.1" r="3.7" fill="#eda8a0" stroke="#222" stroke-width="0.6"/>
<circle cx="285.6" cy="218.4" r="3.7" fill="#eda8a0" stroke="#222" stroke-width="0.6"/>
<circle cx="288.5" cy="223.5" r="3.7" fill="#eda8a0" stroke="#222" stroke-width="0.6"/>
<circle cx="286" cy="236.6" r="3.7" fill="#eda8a0" stroke="#222" stroke-width="0.6"/>
<circle cx="302.7" cy="222" r="3.7" fill="#eda8a0" stroke="#222" stroke-width="0.6"/>
<circle cx="298.6" cy="189.1" r="3.7" fill="#eda8a0" stroke="#222" stroke-width="0.6"/>
<circle cx="319" cy="209.7" r="3.7" fill="#eda8a0" stroke="#222" stroke-width="0.6"/>
<circle cx="323.3" cy="212.6" r="3.7" fill="#eda8a0" stroke="#222" stroke-width="0.6"/>
<circle cx="320.4" cy="247.5" r="3.7" fill="#eda8a0" stroke="#222" stroke-width="0.6"/>
<circle cx="304.5" cy="268.5" r="3.7" fill="#eda8a0" stroke="#222" stroke-width="0.6"/>
<circle cx="254.8" cy="260.2" r="3.7" fill="#eda8a0" stroke="#222" stroke-width="0.6"/>
<circle cx="239.4" cy="280.4" r="3.7" fill="#eda8a0" stroke="#222" stroke-width="0.6"/>
<circle cx="265.7" cy="281.2" r="3.7" fill="#eda8a0" stroke="#222" stroke-width="0.6"/>
<circle cx="287" cy="275.8" r="3.7" fill="#eda8a0" stroke="#222" stroke-width="0.6"/>
<circle cx="247.1" cy="291.8" r="3.7" fill="#eda8a0" stroke="#222" stroke-width="0.6"/>
<circle cx="253.9" cy="296.6" r="3.7" fill="#eda8a0" stroke="#222" stroke-width="0.6"/>
<circle cx="259.4" cy="307" r="3.7" fill="#eda8a0" stroke="#222" stroke-width="0.6"/>
<circle cx="250.7" cy="309.9" r="3.7" fill="#eda8a0" stroke="#222" stroke-width="0.6"/>
<circle cx="244.2" cy="314.3" r="3.7" fill="#eda8a0" stroke="#222" stroke-width="0.6"/>
<circle cx="255.8" cy="315.7" r="3.7" fill="#eda8a0" stroke="#222" stroke-width="0.6"/>
<circle cx="249.3" cy="320.8" r="3.7" fill="#eda8a0" stroke="#222" stroke-width="0.6"/>
<circle cx="348" cy="70.3" r="3.7" fill="#eda8a0" stroke="#222" stroke-width="0.6"/>
<text x="201.2" y="24.7" text-anchor="middle" textLength="166.8" lengthAdjust="spacingAndGlyphs" style="font-family:'Liberation Sans', sans-serif;font-weight:bold;font-size:17px;fill:#000">NTL area proportion</text>
<text x="201.2" y="45.5" text-anchor="middle" textLength="26.3" lengthAdjust="spacingAndGlyphs" style="font-family:'Liberation Sans', sans-serif;font-weight:bold;font-size:17px;fill:#000">(%)</text>
<circle cx="21.6" cy="243.3" r="8.1" fill="#900000" stroke="#222" stroke-width="0.7"/>
<text x="35.0" y="246.9" style="font-family:'Liberation Sans', sans-serif;font-size:12.5px;fill:#1a1a1a">5.1–17.2</text>
<circle cx="21.6" cy="265.0" r="5.6" fill="#b5412f" stroke="#222" stroke-width="0.7"/>
<text x="35.0" y="267.5" style="font-family:'Liberation Sans', sans-serif;font-size:12.5px;fill:#1a1a1a">3.2–5.1</text>
<circle cx="21.6" cy="285.2" r="4.9" fill="#d4705f" stroke="#222" stroke-width="0.7"/>
<text x="35.0" y="288.3" style="font-family:'Liberation Sans', sans-serif;font-size:12.5px;fill:#1a1a1a">1.5–3.2</text>
<circle cx="21.6" cy="304.8" r="3.45" fill="#eda8a0" stroke="#222" stroke-width="0.7"/>
<text x="38.3" y="308.3" style="font-family:'Liberation Sans', sans-serif;font-size:12.5px;fill:#1a1a1a">&lt;</text>
<text x="47.8" y="308.3" style="font-family:'Liberation Sans', sans-serif;font-size:12.5px;fill:#1a1a1a">1.5</text>
</g><g transform="translate(65,512) scale(1.0000,1.0029)">
<use href="#base"/>
<circle cx="192.6" cy="147.9" r="9.4" fill="#f47b7b" stroke="#222" stroke-width="0.6"/>
<circle cx="286" cy="236.6" r="9.4" fill="#f47b7b" stroke="#222" stroke-width="0.6"/>
<circle cx="265.7" cy="281.2" r="9.4" fill="#f47b7b" stroke="#222" stroke-width="0.6"/>
<circle cx="337.6" cy="83.4" r="6.4" fill="#f4a070" stroke="#222" stroke-width="0.6"/>
<circle cx="345.6" cy="88.8" r="6.4" fill="#f4a070" stroke="#222" stroke-width="0.6"/>
<circle cx="319.7" cy="116.1" r="6.4" fill="#f4a070" stroke="#222" stroke-width="0.6"/>
<circle cx="253.9" cy="128" r="6.4" fill="#f4a070" stroke="#222" stroke-width="0.6"/>
<circle cx="240.2" cy="175.2" r="6.4" fill="#f4a070" stroke="#222" stroke-width="0.6"/>
<circle cx="235.5" cy="179.6" r="6.4" fill="#f4a070" stroke="#222" stroke-width="0.6"/>
<circle cx="273.2" cy="219.9" r="6.4" fill="#f4a070" stroke="#222" stroke-width="0.6"/>
<circle cx="302.7" cy="222" r="6.4" fill="#f4a070" stroke="#222" stroke-width="0.6"/>
<circle cx="247.1" cy="291.8" r="6.4" fill="#f4a070" stroke="#222" stroke-width="0.6"/>
<circle cx="258" cy="302.7" r="6.4" fill="#f4a070" stroke="#222" stroke-width="0.6"/>
<circle cx="250.7" cy="309.9" r="6.4" fill="#f4a070" stroke="#222" stroke-width="0.6"/>
<circle cx="244.2" cy="314.3" r="6.4" fill="#f4a070" stroke="#222" stroke-width="0.6"/>
<circle cx="255.8" cy="315.7" r="6.4" fill="#f4a070" stroke="#222" stroke-width="0.6"/>
<circle cx="348" cy="70.3" r="6.4" fill="#f4a070" stroke="#222" stroke-width="0.6"/>
<circle cx="327" cy="118.1" r="4.7" fill="#f2f27a" stroke="#222" stroke-width="0.6"/>
<circle cx="261.6" cy="136" r="4.7" fill="#f2f27a" stroke="#222" stroke-width="0.6"/>
<circle cx="298.4" cy="131.1" r="4.7" fill="#f2f27a" stroke="#222" stroke-width="0.6"/>
<circle cx="287.7" cy="136.7" r="4.7" fill="#f2f27a" stroke="#222" stroke-width="0.6"/>
<circle cx="188" cy="161.9" r="4.7" fill="#f2f27a" stroke="#222" stroke-width="0.6"/>
<circle cx="203.1" cy="166.5" r="4.7" fill="#f2f27a" stroke="#222" stroke-width="0.6"/>
<circle cx="268.4" cy="149.1" r="4.7" fill="#f2f27a" stroke="#222" stroke-width="0.6"/>
<circle cx="284.1" cy="150.2" r="4.7" fill="#f2f27a" stroke="#222" stroke-width="0.6"/>
<circle cx="302.3" cy="148.8" r="4.7" fill="#f2f27a" stroke="#222" stroke-width="0.6"/>
<circle cx="317.5" cy="150.2" r="4.7" fill="#f2f27a" stroke="#222" stroke-width="0.6"/>
<circle cx="300.1" cy="158.2" r="4.7" fill="#f2f27a" stroke="#222" stroke-width="0.6"/>
<circle cx="307.4" cy="158.2" r="4.7" fill="#f2f27a" stroke="#222" stroke-width="0.6"/>
<circle cx="303" cy="169.4" r="4.7" fill="#f2f27a" stroke="#222" stroke-width="0.6"/>
<circle cx="267.8" cy="175" r="4.7" fill="#f2f27a" stroke="#222" stroke-width="0.6"/>
<circle cx="253.9" cy="175.2" r="4.7" fill="#f2f27a" stroke="#222" stroke-width="0.6"/>
<circle cx="260.9" cy="182.8" r="4.7" fill="#f2f27a" stroke="#222" stroke-width="0.6"/>
<circle cx="107" cy="92.7" r="4.7" fill="#f2f27a" stroke="#222" stroke-width="0.6"/>
<circle cx="110.4" cy="214" r="4.7" fill="#f2f27a" stroke="#222" stroke-width="0.6"/>
<circle cx="212.2" cy="223.5" r="4.7" fill="#f2f27a" stroke="#222" stroke-width="0.6"/>
<circle cx="227.9" cy="236.9" r="4.7" fill="#f2f27a" stroke="#222" stroke-width="0.6"/>
<circle cx="187.5" cy="248.2" r="4.7" fill="#f2f27a" stroke="#222" stroke-width="0.6"/>
<circle cx="178.1" cy="247.2" r="4.7" fill="#f2f27a" stroke="#222" stroke-width="0.6"/>
<circle cx="195.5" cy="261.3" r="4.7" fill="#f2f27a" stroke="#222" stroke-width="0.6"/>
<circle cx="256.5" cy="213.3" r="4.7" fill="#f2f27a" stroke="#222" stroke-width="0.6"/>
<circle cx="269.6" cy="214.1" r="4.7" fill="#f2f27a" stroke="#222" stroke-width="0.6"/>
<circle cx="272.5" cy="227.1" r="4.7" fill="#f2f27a" stroke="#222" stroke-width="0.6"/>
<circle cx="285.6" cy="218.4" r="4.7" fill="#f2f27a" stroke="#222" stroke-width="0.6"/>
<circle cx="288.5" cy="223.5" r="4.7" fill="#f2f27a" stroke="#222" stroke-width="0.6"/>
<circle cx="298.6" cy="189.1" r="4.7" fill="#f2f27a" stroke="#222" stroke-width="0.6"/>
<circle cx="321.9" cy="192.3" r="4.7" fill="#f2f27a" stroke="#222" stroke-width="0.6"/>
<circle cx="319" cy="253.3" r="4.7" fill="#f2f27a" stroke="#222" stroke-width="0.6"/>
<circle cx="303" cy="272.9" r="4.7" fill="#f2f27a" stroke="#222" stroke-width="0.6"/>
<circle cx="254.8" cy="260.2" r="4.7" fill="#f2f27a" stroke="#222" stroke-width="0.6"/>
<circle cx="239.4" cy="280.4" r="4.7" fill="#f2f27a" stroke="#222" stroke-width="0.6"/>
<circle cx="253.9" cy="296.6" r="4.7" fill="#f2f27a" stroke="#222" stroke-width="0.6"/>
<circle cx="259.4" cy="307" r="4.7" fill="#f2f27a" stroke="#222" stroke-width="0.6"/>
<circle cx="249.3" cy="320.8" r="4.7" fill="#f2f27a" stroke="#222" stroke-width="0.6"/>
<circle cx="337.6" cy="97.2" r="3.6" fill="#8fe060" stroke="#222" stroke-width="0.6"/>
<circle cx="325.5" cy="105.9" r="3.6" fill="#8fe060" stroke="#222" stroke-width="0.6"/>
<circle cx="323.3" cy="128.5" r="3.6" fill="#8fe060" stroke="#222" stroke-width="0.6"/>
<circle cx="285.3" cy="128.7" r="3.6" fill="#8fe060" stroke="#222" stroke-width="0.6"/>
<circle cx="292.1" cy="136" r="3.6" fill="#8fe060" stroke="#222" stroke-width="0.6"/>
<circle cx="220.9" cy="149.5" r="3.6" fill="#8fe060" stroke="#222" stroke-width="0.6"/>
<circle cx="260.4" cy="150.5" r="3.6" fill="#8fe060" stroke="#222" stroke-width="0.6"/>
<circle cx="275" cy="147.9" r="3.6" fill="#8fe060" stroke="#222" stroke-width="0.6"/>
<circle cx="325.5" cy="149.8" r="3.6" fill="#8fe060" stroke="#222" stroke-width="0.6"/>
<circle cx="294" cy="159" r="3.6" fill="#8fe060" stroke="#222" stroke-width="0.6"/>
<circle cx="314.6" cy="158.1" r="3.6" fill="#8fe060" stroke="#222" stroke-width="0.6"/>
<circle cx="297.2" cy="173.8" r="3.6" fill="#8fe060" stroke="#222" stroke-width="0.6"/>
<circle cx="275.4" cy="169.1" r="3.6" fill="#8fe060" stroke="#222" stroke-width="0.6"/>
<circle cx="282.4" cy="167.5" r="3.6" fill="#8fe060" stroke="#222" stroke-width="0.6"/>
<circle cx="271.8" cy="179.6" r="3.6" fill="#8fe060" stroke="#222" stroke-width="0.6"/>
<circle cx="238.6" cy="186.1" r="3.6" fill="#8fe060" stroke="#222" stroke-width="0.6"/>
<circle cx="274.4" cy="187.3" r="3.6" fill="#8fe060" stroke="#222" stroke-width="0.6"/>
<circle cx="204.2" cy="215.8" r="3.6" fill="#8fe060" stroke="#222" stroke-width="0.6"/>
<circle cx="220.9" cy="211.1" r="3.6" fill="#8fe060" stroke="#222" stroke-width="0.6"/>
<circle cx="210" cy="227.9" r="3.6" fill="#8fe060" stroke="#222" stroke-width="0.6"/>
<circle cx="233" cy="221" r="3.6" fill="#8fe060" stroke="#222" stroke-width="0.6"/>
<circle cx="225.3" cy="248.5" r="3.6" fill="#8fe060" stroke="#222" stroke-width="0.6"/>
<circle cx="279.8" cy="212.6" r="3.6" fill="#8fe060" stroke="#222" stroke-width="0.6"/>
<circle cx="272.5" cy="235.1" r="3.6" fill="#8fe060" stroke="#222" stroke-width="0.6"/>
<circle cx="294" cy="228.6" r="3.6" fill="#8fe060" stroke="#222" stroke-width="0.6"/>
<circle cx="300.8" cy="201" r="3.6" fill="#8fe060" stroke="#222" stroke-width="0.6"/>
<circle cx="314.6" cy="190.8" r="3.6" fill="#8fe060" stroke="#222" stroke-width="0.6"/>
<circle cx="327.7" cy="193.7" r="3.6" fill="#8fe060" stroke="#222" stroke-width="0.6"/>
<circle cx="335" cy="199.5" r="3.6" fill="#8fe060" stroke="#222" stroke-width="0.6"/>
<circle cx="310.3" cy="198.1" r="3.6" fill="#8fe060" stroke="#222" stroke-width="0.6"/>
<circle cx="317.5" cy="199.5" r="3.6" fill="#8fe060" stroke="#222" stroke-width="0.6"/>
<circle cx="321.9" cy="203.9" r="3.6" fill="#8fe060" stroke="#222" stroke-width="0.6"/>
<circle cx="319" cy="209.7" r="3.6" fill="#8fe060" stroke="#222" stroke-width="0.6"/>
<circle cx="329.1" cy="205.3" r="3.6" fill="#8fe060" stroke="#222" stroke-width="0.6"/>
<circle cx="316.1" cy="214.1" r="3.6" fill="#8fe060" stroke="#222" stroke-width="0.6"/>
<circle cx="332.8" cy="213.8" r="3.6" fill="#8fe060" stroke="#222" stroke-width="0.6"/>
<circle cx="322.6" cy="220.6" r="3.6" fill="#8fe060" stroke="#222" stroke-width="0.6"/>
<circle cx="327.7" cy="230" r="3.6" fill="#8fe060" stroke="#222" stroke-width="0.6"/>
<circle cx="323.3" cy="212.6" r="3.6" fill="#8fe060" stroke="#222" stroke-width="0.6"/>
<circle cx="320.4" cy="247.5" r="3.6" fill="#8fe060" stroke="#222" stroke-width="0.6"/>
<circle cx="313.9" cy="260.5" r="3.6" fill="#8fe060" stroke="#222" stroke-width="0.6"/>
<circle cx="304.5" cy="268.5" r="3.6" fill="#8fe060" stroke="#222" stroke-width="0.6"/>
<circle cx="337.1" cy="264.9" r="3.6" fill="#8fe060" stroke="#222" stroke-width="0.6"/>
<circle cx="279.8" cy="273.6" r="3.6" fill="#8fe060" stroke="#222" stroke-width="0.6"/>
<circle cx="275.4" cy="278.7" r="3.6" fill="#8fe060" stroke="#222" stroke-width="0.6"/>
<circle cx="287" cy="275.8" r="3.6" fill="#8fe060" stroke="#222" stroke-width="0.6"/>
<circle cx="279.8" cy="283.8" r="3.6" fill="#8fe060" stroke="#222" stroke-width="0.6"/>
<circle cx="288.5" cy="285.2" r="3.6" fill="#8fe060" stroke="#222" stroke-width="0.6"/>
<circle cx="278.3" cy="288.1" r="3.6" fill="#8fe060" stroke="#222" stroke-width="0.6"/>
<circle cx="284.1" cy="280.9" r="3.6" fill="#8fe060" stroke="#222" stroke-width="0.6"/>
<text x="195.5" y="24.7" text-anchor="middle" textLength="154.6" lengthAdjust="spacingAndGlyphs" style="font-family:'Liberation Sans', sans-serif;font-weight:bold;font-size:17px;fill:#000">Time consumption</text>
<text x="195.5" y="45.5" text-anchor="middle" textLength="67.8" lengthAdjust="spacingAndGlyphs" style="font-family:'Liberation Sans', sans-serif;font-weight:bold;font-size:17px;fill:#000">(minute)</text>
<circle cx="21.8" cy="244.7" r="8.1" fill="#f47b7b" stroke="#222" stroke-width="0.7"/>
<text x="34.9" y="248.1" style="font-family:'Liberation Sans', sans-serif;font-size:12.5px;fill:#1a1a1a">36.5–60.7</text>
<circle cx="21.8" cy="266.5" r="5.6" fill="#f4a070" stroke="#222" stroke-width="0.7"/>
<text x="34.9" y="268.8" style="font-family:'Liberation Sans', sans-serif;font-size:12.5px;fill:#1a1a1a">21.9–36.5</text>
<circle cx="21.8" cy="286.4" r="4.9" fill="#f2f27a" stroke="#222" stroke-width="0.7"/>
<text x="34.9" y="289.4" style="font-family:'Liberation Sans', sans-serif;font-size:12.5px;fill:#1a1a1a">9.6–21.9</text>
<circle cx="21.8" cy="305.9" r="3.45" fill="#8fe060" stroke="#222" stroke-width="0.7"/>
<text x="38.5" y="309.1" style="font-family:'Liberation Sans', sans-serif;font-size:12.5px;fill:#1a1a1a">&lt;</text>
<text x="48.0" y="309.1" style="font-family:'Liberation Sans', sans-serif;font-size:12.5px;fill:#1a1a1a">9.6</text>
</g><g transform="translate(483,512) scale(1.0000,1.0029)">
<use href="#base"/>
<circle cx="337.6" cy="97.2" r="9.4" fill="#f47b7b" stroke="#222" stroke-width="0.6"/>
<circle cx="253.9" cy="128" r="9.4" fill="#f47b7b" stroke="#222" stroke-width="0.6"/>
<circle cx="192.6" cy="147.9" r="9.4" fill="#f47b7b" stroke="#222" stroke-width="0.6"/>
<circle cx="188" cy="161.9" r="9.4" fill="#f47b7b" stroke="#222" stroke-width="0.6"/>
<circle cx="268.4" cy="149.1" r="9.4" fill="#f47b7b" stroke="#222" stroke-width="0.6"/>
<circle cx="240.2" cy="175.2" r="9.4" fill="#f47b7b" stroke="#222" stroke-width="0.6"/>
<circle cx="235.5" cy="179.6" r="9.4" fill="#f47b7b" stroke="#222" stroke-width="0.6"/>
<circle cx="220.9" cy="211.1" r="9.4" fill="#f47b7b" stroke="#222" stroke-width="0.6"/>
<circle cx="288.5" cy="223.5" r="9.4" fill="#f47b7b" stroke="#222" stroke-width="0.6"/>
<circle cx="286" cy="236.6" r="9.4" fill="#f47b7b" stroke="#222" stroke-width="0.6"/>
<circle cx="298.6" cy="189.1" r="9.4" fill="#f47b7b" stroke="#222" stroke-width="0.6"/>
<circle cx="321.9" cy="192.3" r="9.4" fill="#f47b7b" stroke="#222" stroke-width="0.6"/>
<circle cx="265.7" cy="281.2" r="9.4" fill="#f47b7b" stroke="#222" stroke-width="0.6"/>
<circle cx="253.9" cy="296.6" r="9.4" fill="#f47b7b" stroke="#222" stroke-width="0.6"/>
<circle cx="244.2" cy="314.3" r="9.4" fill="#f47b7b" stroke="#222" stroke-width="0.6"/>
<circle cx="337.6" cy="83.4" r="6.3" fill="#f3ac6f" stroke="#222" stroke-width="0.6"/>
<circle cx="345.6" cy="88.8" r="6.3" fill="#f3ac6f" stroke="#222" stroke-width="0.6"/>
<circle cx="319.7" cy="116.1" r="6.3" fill="#f3ac6f" stroke="#222" stroke-width="0.6"/>
<circle cx="327" cy="118.1" r="6.3" fill="#f3ac6f" stroke="#222" stroke-width="0.6"/>
<circle cx="261.6" cy="136" r="6.3" fill="#f3ac6f" stroke="#222" stroke-width="0.6"/>
<circle cx="203.1" cy="166.5" r="6.3" fill="#f3ac6f" stroke="#222" stroke-width="0.6"/>
<circle cx="284.1" cy="150.2" r="6.3" fill="#f3ac6f" stroke="#222" stroke-width="0.6"/>
<circle cx="302.3" cy="148.8" r="6.3" fill="#f3ac6f" stroke="#222" stroke-width="0.6"/>
<circle cx="325.5" cy="149.8" r="6.3" fill="#f3ac6f" stroke="#222" stroke-width="0.6"/>
<circle cx="303" cy="169.4" r="6.3" fill="#f3ac6f" stroke="#222" stroke-width="0.6"/>
<circle cx="282.4" cy="167.5" r="6.3" fill="#f3ac6f" stroke="#222" stroke-width="0.6"/>
<circle cx="267.8" cy="175" r="6.3" fill="#f3ac6f" stroke="#222" stroke-width="0.6"/>
<circle cx="253.9" cy="175.2" r="6.3" fill="#f3ac6f" stroke="#222" stroke-width="0.6"/>
<circle cx="260.9" cy="182.8" r="6.3" fill="#f3ac6f" stroke="#222" stroke-width="0.6"/>
<circle cx="110.4" cy="214" r="6.3" fill="#f3ac6f" stroke="#222" stroke-width="0.6"/>
<circle cx="212.2" cy="223.5" r="6.3" fill="#f3ac6f" stroke="#222" stroke-width="0.6"/>
<circle cx="233" cy="221" r="6.3" fill="#f3ac6f" stroke="#222" stroke-width="0.6"/>
<circle cx="227.9" cy="236.9" r="6.3" fill="#f3ac6f" stroke="#222" stroke-width="0.6"/>
<circle cx="225.3" cy="248.5" r="6.3" fill="#f3ac6f" stroke="#222" stroke-width="0.6"/>
<circle cx="178.1" cy="247.2" r="6.3" fill="#f3ac6f" stroke="#222" stroke-width="0.6"/>
<circle cx="272.5" cy="227.1" r="6.3" fill="#f3ac6f" stroke="#222" stroke-width="0.6"/>
<circle cx="327.7" cy="193.7" r="6.3" fill="#f3ac6f" stroke="#222" stroke-width="0.6"/>
<circle cx="254.8" cy="260.2" r="6.3" fill="#f3ac6f" stroke="#222" stroke-width="0.6"/>
<circle cx="239.4" cy="280.4" r="6.3" fill="#f3ac6f" stroke="#222" stroke-width="0.6"/>
<circle cx="247.1" cy="291.8" r="6.3" fill="#f3ac6f" stroke="#222" stroke-width="0.6"/>
<circle cx="250.7" cy="309.9" r="6.3" fill="#f3ac6f" stroke="#222" stroke-width="0.6"/>
<circle cx="348" cy="70.3" r="6.3" fill="#f3ac6f" stroke="#222" stroke-width="0.6"/>
<circle cx="325.5" cy="105.9" r="4.7" fill="#f2f27a" stroke="#222" stroke-width="0.6"/>
<circle cx="323.3" cy="128.5" r="4.7" fill="#f2f27a" stroke="#222" stroke-width="0.6"/>
<circle cx="298.4" cy="131.1" r="4.7" fill="#f2f27a" stroke="#222" stroke-width="0.6"/>
<circle cx="292.1" cy="136" r="4.7" fill="#f2f27a" stroke="#222" stroke-width="0.6"/>
<circle cx="287.7" cy="136.7" r="4.7" fill="#f2f27a" stroke="#222" stroke-width="0.6"/>
<circle cx="220.9" cy="149.5" r="4.7" fill="#f2f27a" stroke="#222" stroke-width="0.6"/>
<circle cx="260.4" cy="150.5" r="4.7" fill="#f2f27a" stroke="#222" stroke-width="0.6"/>
<circle cx="275" cy="147.9" r="4.7" fill="#f2f27a" stroke="#222" stroke-width="0.6"/>
<circle cx="317.5" cy="150.2" r="4.7" fill="#f2f27a" stroke="#222" stroke-width="0.6"/>
<circle cx="300.1" cy="158.2" r="4.7" fill="#f2f27a" stroke="#222" stroke-width="0.6"/>
<circle cx="307.4" cy="158.2" r="4.7" fill="#f2f27a" stroke="#222" stroke-width="0.6"/>
<circle cx="314.6" cy="158.1" r="4.7" fill="#f2f27a" stroke="#222" stroke-width="0.6"/>
<circle cx="297.2" cy="173.8" r="4.7" fill="#f2f27a" stroke="#222" stroke-width="0.6"/>
<circle cx="275.4" cy="169.1" r="4.7" fill="#f2f27a" stroke="#222" stroke-width="0.6"/>
<circle cx="271.8" cy="179.6" r="4.7" fill="#f2f27a" stroke="#222" stroke-width="0.6"/>
<circle cx="238.6" cy="186.1" r="4.7" fill="#f2f27a" stroke="#222" stroke-width="0.6"/>
<circle cx="274.4" cy="187.3" r="4.7" fill="#f2f27a" stroke="#222" stroke-width="0.6"/>
<circle cx="107" cy="92.7" r="4.7" fill="#f2f27a" stroke="#222" stroke-width="0.6"/>
<circle cx="210" cy="227.9" r="4.7" fill="#f2f27a" stroke="#222" stroke-width="0.6"/>
<circle cx="187.5" cy="248.2" r="4.7" fill="#f2f27a" stroke="#222" stroke-width="0.6"/>
<circle cx="195.5" cy="261.3" r="4.7" fill="#f2f27a" stroke="#222" stroke-width="0.6"/>
<circle cx="256.5" cy="213.3" r="4.7" fill="#f2f27a" stroke="#222" stroke-width="0.6"/>
<circle cx="269.6" cy="214.1" r="4.7" fill="#f2f27a" stroke="#222" stroke-width="0.6"/>
<circle cx="273.2" cy="219.9" r="4.7" fill="#f2f27a" stroke="#222" stroke-width="0.6"/>
<circle cx="272.5" cy="235.1" r="4.7" fill="#f2f27a" stroke="#222" stroke-width="0.6"/>
<circle cx="285.6" cy="218.4" r="4.7" fill="#f2f27a" stroke="#222" stroke-width="0.6"/>
<circle cx="294" cy="228.6" r="4.7" fill="#f2f27a" stroke="#222" stroke-width="0.6"/>
<circle cx="302.7" cy="222" r="4.7" fill="#f2f27a" stroke="#222" stroke-width="0.6"/>
<circle cx="314.6" cy="190.8" r="4.7" fill="#f2f27a" stroke="#222" stroke-width="0.6"/>
<circle cx="319" cy="209.7" r="4.7" fill="#f2f27a" stroke="#222" stroke-width="0.6"/>
<circle cx="332.8" cy="213.8" r="4.7" fill="#f2f27a" stroke="#222" stroke-width="0.6"/>
<circle cx="322.6" cy="220.6" r="4.7" fill="#f2f27a" stroke="#222" stroke-width="0.6"/>
<circle cx="327.7" cy="230" r="4.7" fill="#f2f27a" stroke="#222" stroke-width="0.6"/>
<circle cx="323.3" cy="212.6" r="4.7" fill="#f2f27a" stroke="#222" stroke-width="0.6"/>
<circle cx="320.4" cy="247.5" r="4.7" fill="#f2f27a" stroke="#222" stroke-width="0.6"/>
<circle cx="319" cy="253.3" r="4.7" fill="#f2f27a" stroke="#222" stroke-width="0.6"/>
<circle cx="313.9" cy="260.5" r="4.7" fill="#f2f27a" stroke="#222" stroke-width="0.6"/>
<circle cx="304.5" cy="268.5" r="4.7" fill="#f2f27a" stroke="#222" stroke-width="0.6"/>
<circle cx="303" cy="272.9" r="4.7" fill="#f2f27a" stroke="#222" stroke-width="0.6"/>
<circle cx="287" cy="275.8" r="4.7" fill="#f2f27a" stroke="#222" stroke-width="0.6"/>
<circle cx="278.3" cy="288.1" r="4.7" fill="#f2f27a" stroke="#222" stroke-width="0.6"/>
<circle cx="258" cy="302.7" r="4.7" fill="#f2f27a" stroke="#222" stroke-width="0.6"/>
<circle cx="259.4" cy="307" r="4.7" fill="#f2f27a" stroke="#222" stroke-width="0.6"/>
<circle cx="255.8" cy="315.7" r="4.7" fill="#f2f27a" stroke="#222" stroke-width="0.6"/>
<circle cx="249.3" cy="320.8" r="4.7" fill="#f2f27a" stroke="#222" stroke-width="0.6"/>
<circle cx="285.3" cy="128.7" r="3.6" fill="#8fe060" stroke="#222" stroke-width="0.6"/>
<circle cx="294" cy="159" r="3.6" fill="#8fe060" stroke="#222" stroke-width="0.6"/>
<circle cx="204.2" cy="215.8" r="3.6" fill="#8fe060" stroke="#222" stroke-width="0.6"/>
<circle cx="279.8" cy="212.6" r="3.6" fill="#8fe060" stroke="#222" stroke-width="0.6"/>
<circle cx="300.8" cy="201" r="3.6" fill="#8fe060" stroke="#222" stroke-width="0.6"/>
<circle cx="335" cy="199.5" r="3.6" fill="#8fe060" stroke="#222" stroke-width="0.6"/>
<circle cx="310.3" cy="198.1" r="3.6" fill="#8fe060" stroke="#222" stroke-width="0.6"/>
<circle cx="317.5" cy="199.5" r="3.6" fill="#8fe060" stroke="#222" stroke-width="0.6"/>
<circle cx="321.9" cy="203.9" r="3.6" fill="#8fe060" stroke="#222" stroke-width="0.6"/>
<circle cx="329.1" cy="205.3" r="3.6" fill="#8fe060" stroke="#222" stroke-width="0.6"/>
<circle cx="316.1" cy="214.1" r="3.6" fill="#8fe060" stroke="#222" stroke-width="0.6"/>
<circle cx="337.1" cy="264.9" r="3.6" fill="#8fe060" stroke="#222" stroke-width="0.6"/>
<circle cx="279.8" cy="273.6" r="3.6" fill="#8fe060" stroke="#222" stroke-width="0.6"/>
<circle cx="275.4" cy="278.7" r="3.6" fill="#8fe060" stroke="#222" stroke-width="0.6"/>
<circle cx="279.8" cy="283.8" r="3.6" fill="#8fe060" stroke="#222" stroke-width="0.6"/>
<circle cx="288.5" cy="285.2" r="3.6" fill="#8fe060" stroke="#222" stroke-width="0.6"/>
<circle cx="284.1" cy="280.9" r="3.6" fill="#8fe060" stroke="#222" stroke-width="0.6"/>
<text x="196.8" y="24.7" text-anchor="middle" textLength="154.6" lengthAdjust="spacingAndGlyphs" style="font-family:'Liberation Sans', sans-serif;font-weight:bold;font-size:17px;fill:#000">Time consumption</text>
<text x="196.8" y="45.5" text-anchor="middle" textLength="67.8" lengthAdjust="spacingAndGlyphs" style="font-family:'Liberation Sans', sans-serif;font-weight:bold;font-size:17px;fill:#000">(minute)</text>
<circle cx="23.2" cy="244.3" r="8.1" fill="#f47b7b" stroke="#222" stroke-width="0.7"/>
<text x="36.8" y="248.1" style="font-family:'Liberation Sans', sans-serif;font-size:12.5px;fill:#1a1a1a">58.3–69.6</text>
<circle cx="23.2" cy="266.0" r="5.6" fill="#f4a070" stroke="#222" stroke-width="0.7"/>
<text x="36.8" y="268.8" style="font-family:'Liberation Sans', sans-serif;font-size:12.5px;fill:#1a1a1a">39.5–58.3</text>
<circle cx="23.2" cy="286.0" r="4.9" fill="#f2f27a" stroke="#222" stroke-width="0.7"/>
<text x="36.8" y="289.4" style="font-family:'Liberation Sans', sans-serif;font-size:12.5px;fill:#1a1a1a">19.4–39.5</text>
<circle cx="23.2" cy="305.5" r="3.45" fill="#8fe060" stroke="#222" stroke-width="0.7"/>
<text x="40.2" y="309.1" style="font-family:'Liberation Sans', sans-serif;font-size:12.5px;fill:#1a1a1a">&lt;</text>
<text x="49.7" y="309.1" style="font-family:'Liberation Sans', sans-serif;font-size:12.5px;fill:#1a1a1a">19.4</text>
</g><g transform="translate(900,512) scale(0.9975,1.0029)">
<use href="#base"/>
<circle cx="337.6" cy="97.2" r="9.4" fill="#f47b7b" stroke="#222" stroke-width="0.6"/>
<circle cx="192.6" cy="147.9" r="9.4" fill="#f47b7b" stroke="#222" stroke-width="0.6"/>
<circle cx="240.2" cy="175.2" r="9.4" fill="#f47b7b" stroke="#222" stroke-width="0.6"/>
<circle cx="110.4" cy="214" r="9.4" fill="#f47b7b" stroke="#222" stroke-width="0.6"/>
<circle cx="286" cy="236.6" r="9.4" fill="#f47b7b" stroke="#222" stroke-width="0.6"/>
<circle cx="250.7" cy="309.9" r="9.4" fill="#f47b7b" stroke="#222" stroke-width="0.6"/>
<circle cx="337.6" cy="83.4" r="6.3" fill="#f4a070" stroke="#222" stroke-width="0.6"/>
<circle cx="319.7" cy="116.1" r="6.3" fill="#f4a070" stroke="#222" stroke-width="0.6"/>
<circle cx="253.9" cy="128" r="6.3" fill="#f4a070" stroke="#222" stroke-width="0.6"/>
<circle cx="261.6" cy="136" r="6.3" fill="#f4a070" stroke="#222" stroke-width="0.6"/>
<circle cx="302.3" cy="148.8" r="6.3" fill="#f4a070" stroke="#222" stroke-width="0.6"/>
<circle cx="235.5" cy="179.6" r="6.3" fill="#f4a070" stroke="#222" stroke-width="0.6"/>
<circle cx="220.9" cy="211.1" r="6.3" fill="#f4a070" stroke="#222" stroke-width="0.6"/>
<circle cx="227.9" cy="236.9" r="6.3" fill="#f4a070" stroke="#222" stroke-width="0.6"/>
<circle cx="178.1" cy="247.2" r="6.3" fill="#f4a070" stroke="#222" stroke-width="0.6"/>
<circle cx="272.5" cy="227.1" r="6.3" fill="#f4a070" stroke="#222" stroke-width="0.6"/>
<circle cx="302.7" cy="222" r="6.3" fill="#f4a070" stroke="#222" stroke-width="0.6"/>
<circle cx="254.8" cy="260.2" r="6.3" fill="#f4a070" stroke="#222" stroke-width="0.6"/>
<circle cx="247.1" cy="291.8" r="6.3" fill="#f4a070" stroke="#222" stroke-width="0.6"/>
<circle cx="244.2" cy="314.3" r="6.3" fill="#f4a070" stroke="#222" stroke-width="0.6"/>
<circle cx="348" cy="70.3" r="6.3" fill="#f4a070" stroke="#222" stroke-width="0.6"/>
<circle cx="345.6" cy="88.8" r="4.7" fill="#f2f27a" stroke="#222" stroke-width="0.6"/>
<circle cx="325.5" cy="105.9" r="4.7" fill="#f2f27a" stroke="#222" stroke-width="0.6"/>
<circle cx="327" cy="118.1" r="4.7" fill="#f2f27a" stroke="#222" stroke-width="0.6"/>
<circle cx="323.3" cy="128.5" r="4.7" fill="#f2f27a" stroke="#222" stroke-width="0.6"/>
<circle cx="298.4" cy="131.1" r="4.7" fill="#f2f27a" stroke="#222" stroke-width="0.6"/>
<circle cx="292.1" cy="136" r="4.7" fill="#f2f27a" stroke="#222" stroke-width="0.6"/>
<circle cx="287.7" cy="136.7" r="4.7" fill="#f2f27a" stroke="#222" stroke-width="0.6"/>
<circle cx="220.9" cy="149.5" r="4.7" fill="#f2f27a" stroke="#222" stroke-width="0.6"/>
<circle cx="188" cy="161.9" r="4.7" fill="#f2f27a" stroke="#222" stroke-width="0.6"/>
<circle cx="203.1" cy="166.5" r="4.7" fill="#f2f27a" stroke="#222" stroke-width="0.6"/>
<circle cx="268.4" cy="149.1" r="4.7" fill="#f2f27a" stroke="#222" stroke-width="0.6"/>
<circle cx="275" cy="147.9" r="4.7" fill="#f2f27a" stroke="#222" stroke-width="0.6"/>
<circle cx="284.1" cy="150.2" r="4.7" fill="#f2f27a" stroke="#222" stroke-width="0.6"/>
<circle cx="317.5" cy="150.2" r="4.7" fill="#f2f27a" stroke="#222" stroke-width="0.6"/>
<circle cx="325.5" cy="149.8" r="4.7" fill="#f2f27a" stroke="#222" stroke-width="0.6"/>
<circle cx="294" cy="159" r="4.7" fill="#f2f27a" stroke="#222" stroke-width="0.6"/>
<circle cx="300.1" cy="158.2" r="4.7" fill="#f2f27a" stroke="#222" stroke-width="0.6"/>
<circle cx="307.4" cy="158.2" r="4.7" fill="#f2f27a" stroke="#222" stroke-width="0.6"/>
<circle cx="303" cy="169.4" r="4.7" fill="#f2f27a" stroke="#222" stroke-width="0.6"/>
<circle cx="297.2" cy="173.8" r="4.7" fill="#f2f27a" stroke="#222" stroke-width="0.6"/>
<circle cx="275.4" cy="169.1" r="4.7" fill="#f2f27a" stroke="#222" stroke-width="0.6"/>
<circle cx="282.4" cy="167.5" r="4.7" fill="#f2f27a" stroke="#222" stroke-width="0.6"/>
<circle cx="267.8" cy="175" r="4.7" fill="#f2f27a" stroke="#222" stroke-width="0.6"/>
<circle cx="253.9" cy="175.2" r="4.7" fill="#f2f27a" stroke="#222" stroke-width="0.6"/>
<circle cx="260.9" cy="182.8" r="4.7" fill="#f2f27a" stroke="#222" stroke-width="0.6"/>
<circle cx="274.4" cy="187.3" r="4.7" fill="#f2f27a" stroke="#222" stroke-width="0.6"/>
<circle cx="107" cy="92.7" r="4.7" fill="#f2f27a" stroke="#222" stroke-width="0.6"/>
<circle cx="212.2" cy="223.5" r="4.7" fill="#f2f27a" stroke="#222" stroke-width="0.6"/>
<circle cx="210" cy="227.9" r="4.7" fill="#f2f27a" stroke="#222" stroke-width="0.6"/>
<circle cx="233" cy="221" r="4.7" fill="#f2f27a" stroke="#222" stroke-width="0.6"/>
<circle cx="225.3" cy="248.5" r="4.7" fill="#f2f27a" stroke="#222" stroke-width="0.6"/>
<circle cx="187.5" cy="248.2" r="4.7" fill="#f2f27a" stroke="#222" stroke-width="0.6"/>
<circle cx="195.5" cy="261.3" r="4.7" fill="#f2f27a" stroke="#222" stroke-width="0.6"/>
<circle cx="256.5" cy="213.3" r="4.7" fill="#f2f27a" stroke="#222" stroke-width="0.6"/>
<circle cx="269.6" cy="214.1" r="4.7" fill="#f2f27a" stroke="#222" stroke-width="0.6"/>
<circle cx="273.2" cy="219.9" r="4.7" fill="#f2f27a" stroke="#222" stroke-width="0.6"/>
<circle cx="285.6" cy="218.4" r="4.7" fill="#f2f27a" stroke="#222" stroke-width="0.6"/>
<circle cx="294" cy="228.6" r="4.7" fill="#f2f27a" stroke="#222" stroke-width="0.6"/>
<circle cx="298.6" cy="189.1" r="4.7" fill="#f2f27a" stroke="#222" stroke-width="0.6"/>
<circle cx="314.6" cy="190.8" r="4.7" fill="#f2f27a" stroke="#222" stroke-width="0.6"/>
<circle cx="321.9" cy="192.3" r="4.7" fill="#f2f27a" stroke="#222" stroke-width="0.6"/>
<circle cx="327.7" cy="193.7" r="4.7" fill="#f2f27a" stroke="#222" stroke-width="0.6"/>
<circle cx="319" cy="209.7" r="4.7" fill="#f2f27a" stroke="#222" stroke-width="0.6"/>
<circle cx="327.7" cy="230" r="4.7" fill="#f2f27a" stroke="#222" stroke-width="0.6"/>
<circle cx="323.3" cy="212.6" r="4.7" fill="#f2f27a" stroke="#222" stroke-width="0.6"/>
<circle cx="320.4" cy="247.5" r="4.7" fill="#f2f27a" stroke="#222" stroke-width="0.6"/>
<circle cx="319" cy="253.3" r="4.7" fill="#f2f27a" stroke="#222" stroke-width="0.6"/>
<circle cx="303" cy="272.9" r="4.7" fill="#f2f27a" stroke="#222" stroke-width="0.6"/>
<circle cx="239.4" cy="280.4" r="4.7" fill="#f2f27a" stroke="#222" stroke-width="0.6"/>
<circle cx="265.7" cy="281.2" r="4.7" fill="#f2f27a" stroke="#222" stroke-width="0.6"/>
<circle cx="287" cy="275.8" r="4.7" fill="#f2f27a" stroke="#222" stroke-width="0.6"/>
<circle cx="278.3" cy="288.1" r="4.7" fill="#f2f27a" stroke="#222" stroke-width="0.6"/>
<circle cx="253.9" cy="296.6" r="4.7" fill="#f2f27a" stroke="#222" stroke-width="0.6"/>
<circle cx="258" cy="302.7" r="4.7" fill="#f2f27a" stroke="#222" stroke-width="0.6"/>
<circle cx="259.4" cy="307" r="4.7" fill="#f2f27a" stroke="#222" stroke-width="0.6"/>
<circle cx="255.8" cy="315.7" r="4.7" fill="#f2f27a" stroke="#222" stroke-width="0.6"/>
<circle cx="249.3" cy="320.8" r="4.7" fill="#f2f27a" stroke="#222" stroke-width="0.6"/>
<circle cx="285.3" cy="128.7" r="3.6" fill="#8fe060" stroke="#222" stroke-width="0.6"/>
<circle cx="260.4" cy="150.5" r="3.6" fill="#8fe060" stroke="#222" stroke-width="0.6"/>
<circle cx="314.6" cy="158.1" r="3.6" fill="#8fe060" stroke="#222" stroke-width="0.6"/>
<circle cx="271.8" cy="179.6" r="3.6" fill="#8fe060" stroke="#222" stroke-width="0.6"/>
<circle cx="238.6" cy="186.1" r="3.6" fill="#8fe060" stroke="#222" stroke-width="0.6"/>
<circle cx="204.2" cy="215.8" r="3.6" fill="#8fe060" stroke="#222" stroke-width="0.6"/>
<circle cx="279.8" cy="212.6" r="3.6" fill="#8fe060" stroke="#222" stroke-width="0.6"/>
<circle cx="272.5" cy="235.1" r="3.6" fill="#8fe060" stroke="#222" stroke-width="0.6"/>
<circle cx="288.5" cy="223.5" r="3.6" fill="#8fe060" stroke="#222" stroke-width="0.6"/>
<circle cx="300.8" cy="201" r="3.6" fill="#8fe060" stroke="#222" stroke-width="0.6"/>
<circle cx="335" cy="199.5" r="3.6" fill="#8fe060" stroke="#222" stroke-width="0.6"/>
<circle cx="310.3" cy="198.1" r="3.6" fill="#8fe060" stroke="#222" stroke-width="0.6"/>
<circle cx="317.5" cy="199.5" r="3.6" fill="#8fe060" stroke="#222" stroke-width="0.6"/>
<circle cx="321.9" cy="203.9" r="3.6" fill="#8fe060" stroke="#222" stroke-width="0.6"/>
<circle cx="329.1" cy="205.3" r="3.6" fill="#8fe060" stroke="#222" stroke-width="0.6"/>
<circle cx="316.1" cy="214.1" r="3.6" fill="#8fe060" stroke="#222" stroke-width="0.6"/>
<circle cx="332.8" cy="213.8" r="3.6" fill="#8fe060" stroke="#222" stroke-width="0.6"/>
<circle cx="322.6" cy="220.6" r="3.6" fill="#8fe060" stroke="#222" stroke-width="0.6"/>
<circle cx="313.9" cy="260.5" r="3.6" fill="#8fe060" stroke="#222" stroke-width="0.6"/>
<circle cx="304.5" cy="268.5" r="3.6" fill="#8fe060" stroke="#222" stroke-width="0.6"/>
<circle cx="337.1" cy="264.9" r="3.6" fill="#8fe060" stroke="#222" stroke-width="0.6"/>
<circle cx="279.8" cy="273.6" r="3.6" fill="#8fe060" stroke="#222" stroke-width="0.6"/>
<circle cx="275.4" cy="278.7" r="3.6" fill="#8fe060" stroke="#222" stroke-width="0.6"/>
<circle cx="279.8" cy="283.8" r="3.6" fill="#8fe060" stroke="#222" stroke-width="0.6"/>
<circle cx="288.5" cy="285.2" r="3.6" fill="#8fe060" stroke="#222" stroke-width="0.6"/>
<circle cx="284.1" cy="280.9" r="3.6" fill="#8fe060" stroke="#222" stroke-width="0.6"/>
<text x="196.0" y="24.7" text-anchor="middle" textLength="153.8" lengthAdjust="spacingAndGlyphs" style="font-family:'Liberation Sans', sans-serif;font-weight:bold;font-size:17px;fill:#000">Time consumption</text>
<text x="196.0" y="45.5" text-anchor="middle" textLength="67.8" lengthAdjust="spacingAndGlyphs" style="font-family:'Liberation Sans', sans-serif;font-weight:bold;font-size:17px;fill:#000">(minute)</text>
<circle cx="23.4" cy="243.1" r="8.1" fill="#f47b7b" stroke="#222" stroke-width="0.7"/>
<text x="36.9" y="246.8" style="font-family:'Liberation Sans', sans-serif;font-size:12.5px;fill:#1a1a1a">61.3–83.7</text>
<circle cx="23.4" cy="264.9" r="5.6" fill="#f4a070" stroke="#222" stroke-width="0.7"/>
<text x="36.9" y="267.4" style="font-family:'Liberation Sans', sans-serif;font-size:12.5px;fill:#1a1a1a">39.1–61.3</text>
<circle cx="23.4" cy="284.8" r="4.9" fill="#f2f27a" stroke="#222" stroke-width="0.7"/>
<text x="36.9" y="287.6" style="font-family:'Liberation Sans', sans-serif;font-size:12.5px;fill:#1a1a1a">17.9–39.1</text>
<circle cx="23.4" cy="304.1" r="3.45" fill="#8fe060" stroke="#222" stroke-width="0.7"/>
<text x="40.1" y="307.3" style="font-family:'Liberation Sans', sans-serif;font-size:12.5px;fill:#1a1a1a">&lt;</text>
<text x="49.6" y="307.3" style="font-family:'Liberation Sans', sans-serif;font-size:12.5px;fill:#1a1a1a">17.9</text>
</g><g transform="translate(63,970) scale(1.0025,1.0059)">
<use href="#base"/>
<circle cx="279.8" cy="212.6" r="9.0" fill="#0a0f8c" stroke="#222" stroke-width="0.6"/>
<circle cx="335" cy="199.5" r="9.0" fill="#0a0f8c" stroke="#222" stroke-width="0.6"/>
<circle cx="337.1" cy="264.9" r="9.0" fill="#0a0f8c" stroke="#222" stroke-width="0.6"/>
<circle cx="279.8" cy="273.6" r="9.0" fill="#0a0f8c" stroke="#222" stroke-width="0.6"/>
<circle cx="288.5" cy="285.2" r="9.0" fill="#0a0f8c" stroke="#222" stroke-width="0.6"/>
<circle cx="323.3" cy="128.5" r="6.3" fill="#1e55cc" stroke="#222" stroke-width="0.6"/>
<circle cx="285.3" cy="128.7" r="6.3" fill="#1e55cc" stroke="#222" stroke-width="0.6"/>
<circle cx="292.1" cy="136" r="6.3" fill="#1e55cc" stroke="#222" stroke-width="0.6"/>
<circle cx="260.4" cy="150.5" r="6.3" fill="#1e55cc" stroke="#222" stroke-width="0.6"/>
<circle cx="294" cy="159" r="6.3" fill="#1e55cc" stroke="#222" stroke-width="0.6"/>
<circle cx="300.1" cy="158.2" r="6.3" fill="#1e55cc" stroke="#222" stroke-width="0.6"/>
<circle cx="307.4" cy="158.2" r="6.3" fill="#1e55cc" stroke="#222" stroke-width="0.6"/>
<circle cx="314.6" cy="158.1" r="6.3" fill="#1e55cc" stroke="#222" stroke-width="0.6"/>
<circle cx="271.8" cy="179.6" r="6.3" fill="#1e55cc" stroke="#222" stroke-width="0.6"/>
<circle cx="107" cy="92.7" r="6.3" fill="#1e55cc" stroke="#222" stroke-width="0.6"/>
<circle cx="204.2" cy="215.8" r="6.3" fill="#1e55cc" stroke="#222" stroke-width="0.6"/>
<circle cx="210" cy="227.9" r="6.3" fill="#1e55cc" stroke="#222" stroke-width="0.6"/>
<circle cx="233" cy="221" r="6.3" fill="#1e55cc" stroke="#222" stroke-width="0.6"/>
<circle cx="225.3" cy="248.5" r="6.3" fill="#1e55cc" stroke="#222" stroke-width="0.6"/>
<circle cx="195.5" cy="261.3" r="6.3" fill="#1e55cc" stroke="#222" stroke-width="0.6"/>
<circle cx="256.5" cy="213.3" r="6.3" fill="#1e55cc" stroke="#222" stroke-width="0.6"/>
<circle cx="288.5" cy="223.5" r="6.3" fill="#1e55cc" stroke="#222" stroke-width="0.6"/>
<circle cx="294" cy="228.6" r="6.3" fill="#1e55cc" stroke="#222" stroke-width="0.6"/>
<circle cx="300.8" cy="201" r="6.3" fill="#1e55cc" stroke="#222" stroke-width="0.6"/>
<circle cx="310.3" cy="198.1" r="6.3" fill="#1e55cc" stroke="#222" stroke-width="0.6"/>
<circle cx="317.5" cy="199.5" r="6.3" fill="#1e55cc" stroke="#222" stroke-width="0.6"/>
<circle cx="321.9" cy="203.9" r="6.3" fill="#1e55cc" stroke="#222" stroke-width="0.6"/>
<circle cx="316.1" cy="214.1" r="6.3" fill="#1e55cc" stroke="#222" stroke-width="0.6"/>
<circle cx="332.8" cy="213.8" r="6.3" fill="#1e55cc" stroke="#222" stroke-width="0.6"/>
<circle cx="322.6" cy="220.6" r="6.3" fill="#1e55cc" stroke="#222" stroke-width="0.6"/>
<circle cx="320.4" cy="247.5" r="6.3" fill="#1e55cc" stroke="#222" stroke-width="0.6"/>
<circle cx="284.1" cy="280.9" r="6.3" fill="#1e55cc" stroke="#222" stroke-width="0.6"/>
<circle cx="253.9" cy="296.6" r="6.3" fill="#1e55cc" stroke="#222" stroke-width="0.6"/>
<circle cx="325.5" cy="105.9" r="4.8" fill="#5ba3e8" stroke="#222" stroke-width="0.6"/>
<circle cx="327" cy="118.1" r="4.8" fill="#5ba3e8" stroke="#222" stroke-width="0.6"/>
<circle cx="203.1" cy="166.5" r="4.8" fill="#5ba3e8" stroke="#222" stroke-width="0.6"/>
<circle cx="302.3" cy="148.8" r="4.8" fill="#5ba3e8" stroke="#222" stroke-width="0.6"/>
<circle cx="317.5" cy="150.2" r="4.8" fill="#5ba3e8" stroke="#222" stroke-width="0.6"/>
<circle cx="325.5" cy="149.8" r="4.8" fill="#5ba3e8" stroke="#222" stroke-width="0.6"/>
<circle cx="275.4" cy="169.1" r="4.8" fill="#5ba3e8" stroke="#222" stroke-width="0.6"/>
<circle cx="282.4" cy="167.5" r="4.8" fill="#5ba3e8" stroke="#222" stroke-width="0.6"/>
<circle cx="238.6" cy="186.1" r="4.8" fill="#5ba3e8" stroke="#222" stroke-width="0.6"/>
<circle cx="260.9" cy="182.8" r="4.8" fill="#5ba3e8" stroke="#222" stroke-width="0.6"/>
<circle cx="269.6" cy="214.1" r="4.8" fill="#5ba3e8" stroke="#222" stroke-width="0.6"/>
<circle cx="272.5" cy="235.1" r="4.8" fill="#5ba3e8" stroke="#222" stroke-width="0.6"/>
<circle cx="298.6" cy="189.1" r="4.8" fill="#5ba3e8" stroke="#222" stroke-width="0.6"/>
<circle cx="314.6" cy="190.8" r="4.8" fill="#5ba3e8" stroke="#222" stroke-width="0.6"/>
<circle cx="327.7" cy="193.7" r="4.8" fill="#5ba3e8" stroke="#222" stroke-width="0.6"/>
<circle cx="319" cy="209.7" r="4.8" fill="#5ba3e8" stroke="#222" stroke-width="0.6"/>
<circle cx="329.1" cy="205.3" r="4.8" fill="#5ba3e8" stroke="#222" stroke-width="0.6"/>
<circle cx="327.7" cy="230" r="4.8" fill="#5ba3e8" stroke="#222" stroke-width="0.6"/>
<circle cx="313.9" cy="260.5" r="4.8" fill="#5ba3e8" stroke="#222" stroke-width="0.6"/>
<circle cx="303" cy="272.9" r="4.8" fill="#5ba3e8" stroke="#222" stroke-width="0.6"/>
<circle cx="239.4" cy="280.4" r="4.8" fill="#5ba3e8" stroke="#222" stroke-width="0.6"/>
<circle cx="275.4" cy="278.7" r="4.8" fill="#5ba3e8" stroke="#222" stroke-width="0.6"/>
<circle cx="287" cy="275.8" r="4.8" fill="#5ba3e8" stroke="#222" stroke-width="0.6"/>
<circle cx="279.8" cy="283.8" r="4.8" fill="#5ba3e8" stroke="#222" stroke-width="0.6"/>
<circle cx="278.3" cy="288.1" r="4.8" fill="#5ba3e8" stroke="#222" stroke-width="0.6"/>
<circle cx="258" cy="302.7" r="4.8" fill="#5ba3e8" stroke="#222" stroke-width="0.6"/>
<circle cx="255.8" cy="315.7" r="4.8" fill="#5ba3e8" stroke="#222" stroke-width="0.6"/>
<circle cx="249.3" cy="320.8" r="4.8" fill="#5ba3e8" stroke="#222" stroke-width="0.6"/>
<circle cx="337.6" cy="83.4" r="3.7" fill="#b8eef0" stroke="#222" stroke-width="0.6"/>
<circle cx="345.6" cy="88.8" r="3.7" fill="#b8eef0" stroke="#222" stroke-width="0.6"/>
<circle cx="337.6" cy="97.2" r="3.7" fill="#b8eef0" stroke="#222" stroke-width="0.6"/>
<circle cx="319.7" cy="116.1" r="3.7" fill="#b8eef0" stroke="#222" stroke-width="0.6"/>
<circle cx="253.9" cy="128" r="3.7" fill="#b8eef0" stroke="#222" stroke-width="0.6"/>
<circle cx="261.6" cy="136" r="3.7" fill="#b8eef0" stroke="#222" stroke-width="0.6"/>
<circle cx="298.4" cy="131.1" r="3.7" fill="#b8eef0" stroke="#222" stroke-width="0.6"/>
<circle cx="287.7" cy="136.7" r="3.7" fill="#b8eef0" stroke="#222" stroke-width="0.6"/>
<circle cx="192.6" cy="147.9" r="3.7" fill="#b8eef0" stroke="#222" stroke-width="0.6"/>
<circle cx="220.9" cy="149.5" r="3.7" fill="#b8eef0" stroke="#222" stroke-width="0.6"/>
<circle cx="188" cy="161.9" r="3.7" fill="#b8eef0" stroke="#222" stroke-width="0.6"/>
<circle cx="268.4" cy="149.1" r="3.7" fill="#b8eef0" stroke="#222" stroke-width="0.6"/>
<circle cx="275" cy="147.9" r="3.7" fill="#b8eef0" stroke="#222" stroke-width="0.6"/>
<circle cx="284.1" cy="150.2" r="3.7" fill="#b8eef0" stroke="#222" stroke-width="0.6"/>
<circle cx="303" cy="169.4" r="3.7" fill="#b8eef0" stroke="#222" stroke-width="0.6"/>
<circle cx="297.2" cy="173.8" r="3.7" fill="#b8eef0" stroke="#222" stroke-width="0.6"/>
<circle cx="267.8" cy="175" r="3.7" fill="#b8eef0" stroke="#222" stroke-width="0.6"/>
<circle cx="253.9" cy="175.2" r="3.7" fill="#b8eef0" stroke="#222" stroke-width="0.6"/>
<circle cx="240.2" cy="175.2" r="3.7" fill="#b8eef0" stroke="#222" stroke-width="0.6"/>
<circle cx="235.5" cy="179.6" r="3.7" fill="#b8eef0" stroke="#222" stroke-width="0.6"/>
<circle cx="274.4" cy="187.3" r="3.7" fill="#b8eef0" stroke="#222" stroke-width="0.6"/>
<circle cx="110.4" cy="214" r="3.7" fill="#b8eef0" stroke="#222" stroke-width="0.6"/>
<circle cx="220.9" cy="211.1" r="3.7" fill="#b8eef0" stroke="#222" stroke-width="0.6"/>
<circle cx="212.2" cy="223.5" r="3.7" fill="#b8eef0" stroke="#222" stroke-width="0.6"/>
<circle cx="227.9" cy="236.9" r="3.7" fill="#b8eef0" stroke="#222" stroke-width="0.6"/>
<circle cx="187.5" cy="248.2" r="3.7" fill="#b8eef0" stroke="#222" stroke-width="0.6"/>
<circle cx="178.1" cy="247.2" r="3.7" fill="#b8eef0" stroke="#222" stroke-width="0.6"/>
<circle cx="273.2" cy="219.9" r="3.7" fill="#b8eef0" stroke="#222" stroke-width="0.6"/>
<circle cx="272.5" cy="227.1" r="3.7" fill="#b8eef0" stroke="#222" stroke-width="0.6"/>
<circle cx="285.6" cy="218.4" r="3.7" fill="#b8eef0" stroke="#222" stroke-width="0.6"/>
<circle cx="286" cy="236.6" r="3.7" fill="#b8eef0" stroke="#222" stroke-width="0.6"/>
<circle cx="302.7" cy="222" r="3.7" fill="#b8eef0" stroke="#222" stroke-width="0.6"/>
<circle cx="321.9" cy="192.3" r="3.7" fill="#b8eef0" stroke="#222" stroke-width="0.6"/>
<circle cx="323.3" cy="212.6" r="3.7" fill="#b8eef0" stroke="#222" stroke-width="0.6"/>
<circle cx="319" cy="253.3" r="3.7" fill="#b8eef0" stroke="#222" stroke-width="0.6"/>
<circle cx="304.5" cy="268.5" r="3.7" fill="#b8eef0" stroke="#222" stroke-width="0.6"/>
<circle cx="254.8" cy="260.2" r="3.7" fill="#b8eef0" stroke="#222" stroke-width="0.6"/>
<circle cx="265.7" cy="281.2" r="3.7" fill="#b8eef0" stroke="#222" stroke-width="0.6"/>
<circle cx="247.1" cy="291.8" r="3.7" fill="#b8eef0" stroke="#222" stroke-width="0.6"/>
<circle cx="259.4" cy="307" r="3.7" fill="#b8eef0" stroke="#222" stroke-width="0.6"/>
<circle cx="250.7" cy="309.9" r="3.7" fill="#b8eef0" stroke="#222" stroke-width="0.6"/>
<circle cx="244.2" cy="314.3" r="3.7" fill="#b8eef0" stroke="#222" stroke-width="0.6"/>
<circle cx="348" cy="70.3" r="3.7" fill="#b8eef0" stroke="#222" stroke-width="0.6"/>
<text x="201.2" y="24.7" text-anchor="middle" textLength="136.8" lengthAdjust="spacingAndGlyphs" style="font-family:'Liberation Sans', sans-serif;font-weight:bold;font-size:17px;fill:#000">Facility diversity</text>
<circle cx="22.7" cy="243.3" r="8.1" fill="#0a0f8c" stroke="#222" stroke-width="0.7"/>
<text x="36.0" y="246.4" style="font-family:'Liberation Sans', sans-serif;font-size:11.5px;fill:#1a1a1a" textLength="71" lengthAdjust="spacingAndGlyphs">9.7×10<tspan baseline-shift="4" style="font-size:7.5px">-1</tspan>–1.2</text>
<circle cx="22.7" cy="265.1" r="5.6" fill="#1e55cc" stroke="#222" stroke-width="0.7"/>
<text x="36.0" y="266.6" style="font-family:'Liberation Sans', sans-serif;font-size:11.5px;fill:#1a1a1a" textLength="99.5" lengthAdjust="spacingAndGlyphs">7.5×10<tspan baseline-shift="4" style="font-size:7.5px">-1</tspan>–9.7×10<tspan baseline-shift="4" style="font-size:7.5px">-1</tspan></text>
<circle cx="22.7" cy="285.2" r="4.9" fill="#5ba3e8" stroke="#222" stroke-width="0.7"/>
<text x="36.0" y="287.4" style="font-family:'Liberation Sans', sans-serif;font-size:11.5px;fill:#1a1a1a" textLength="99.5" lengthAdjust="spacingAndGlyphs">4.4×10<tspan baseline-shift="4" style="font-size:7.5px">-1</tspan>–7.5×10<tspan baseline-shift="4" style="font-size:7.5px">-1</tspan></text>
<circle cx="22.7" cy="304.5" r="3.45" fill="#b8eef0" stroke="#222" stroke-width="0.7"/>
<text x="39.1" y="308.2" style="font-family:'Liberation Sans', sans-serif;font-size:11.5px;fill:#1a1a1a">&lt;</text>
<text x="48.6" y="308.2" style="font-family:'Liberation Sans', sans-serif;font-size:11.5px;fill:#1a1a1a" textLength="45.8" lengthAdjust="spacingAndGlyphs">4.4×10<tspan baseline-shift="4" style="font-size:7.5px">-1</tspan></text>
</g><g transform="translate(479,967) scale(1.0050,1.0029)">
<use href="#base"/>
<circle cx="273.2" cy="219.9" r="9.0" fill="#0a0f8c" stroke="#222" stroke-width="0.6"/>
<circle cx="313.9" cy="260.5" r="9.0" fill="#0a0f8c" stroke="#222" stroke-width="0.6"/>
<circle cx="287" cy="275.8" r="9.0" fill="#0a0f8c" stroke="#222" stroke-width="0.6"/>
<circle cx="279.8" cy="283.8" r="9.0" fill="#0a0f8c" stroke="#222" stroke-width="0.6"/>
<circle cx="288.5" cy="285.2" r="9.0" fill="#0a0f8c" stroke="#222" stroke-width="0.6"/>
<circle cx="284.1" cy="280.9" r="9.0" fill="#0a0f8c" stroke="#222" stroke-width="0.6"/>
<circle cx="323.3" cy="128.5" r="6.3" fill="#1e55cc" stroke="#222" stroke-width="0.6"/>
<circle cx="317.5" cy="150.2" r="6.3" fill="#1e55cc" stroke="#222" stroke-width="0.6"/>
<circle cx="325.5" cy="149.8" r="6.3" fill="#1e55cc" stroke="#222" stroke-width="0.6"/>
<circle cx="212.2" cy="223.5" r="6.3" fill="#1e55cc" stroke="#222" stroke-width="0.6"/>
<circle cx="210" cy="227.9" r="6.3" fill="#1e55cc" stroke="#222" stroke-width="0.6"/>
<circle cx="225.3" cy="248.5" r="6.3" fill="#1e55cc" stroke="#222" stroke-width="0.6"/>
<circle cx="187.5" cy="248.2" r="6.3" fill="#1e55cc" stroke="#222" stroke-width="0.6"/>
<circle cx="286" cy="236.6" r="6.3" fill="#1e55cc" stroke="#222" stroke-width="0.6"/>
<circle cx="302.7" cy="222" r="6.3" fill="#1e55cc" stroke="#222" stroke-width="0.6"/>
<circle cx="314.6" cy="190.8" r="6.3" fill="#1e55cc" stroke="#222" stroke-width="0.6"/>
<circle cx="321.9" cy="192.3" r="6.3" fill="#1e55cc" stroke="#222" stroke-width="0.6"/>
<circle cx="317.5" cy="199.5" r="6.3" fill="#1e55cc" stroke="#222" stroke-width="0.6"/>
<circle cx="321.9" cy="203.9" r="6.3" fill="#1e55cc" stroke="#222" stroke-width="0.6"/>
<circle cx="329.1" cy="205.3" r="6.3" fill="#1e55cc" stroke="#222" stroke-width="0.6"/>
<circle cx="332.8" cy="213.8" r="6.3" fill="#1e55cc" stroke="#222" stroke-width="0.6"/>
<circle cx="322.6" cy="220.6" r="6.3" fill="#1e55cc" stroke="#222" stroke-width="0.6"/>
<circle cx="327.7" cy="230" r="6.3" fill="#1e55cc" stroke="#222" stroke-width="0.6"/>
<circle cx="323.3" cy="212.6" r="6.3" fill="#1e55cc" stroke="#222" stroke-width="0.6"/>
<circle cx="304.5" cy="268.5" r="6.3" fill="#1e55cc" stroke="#222" stroke-width="0.6"/>
<circle cx="303" cy="272.9" r="6.3" fill="#1e55cc" stroke="#222" stroke-width="0.6"/>
<circle cx="265.7" cy="281.2" r="6.3" fill="#1e55cc" stroke="#222" stroke-width="0.6"/>
<circle cx="279.8" cy="273.6" r="6.3" fill="#1e55cc" stroke="#222" stroke-width="0.6"/>
<circle cx="275.4" cy="278.7" r="6.3" fill="#1e55cc" stroke="#222" stroke-width="0.6"/>
<circle cx="278.3" cy="288.1" r="6.3" fill="#1e55cc" stroke="#222" stroke-width="0.6"/>
<circle cx="247.1" cy="291.8" r="6.3" fill="#1e55cc" stroke="#222" stroke-width="0.6"/>
<circle cx="250.7" cy="309.9" r="6.3" fill="#1e55cc" stroke="#222" stroke-width="0.6"/>
<circle cx="255.8" cy="315.7" r="6.3" fill="#1e55cc" stroke="#222" stroke-width="0.6"/>
<circle cx="261.6" cy="136" r="4.8" fill="#5ba3e8" stroke="#222" stroke-width="0.6"/>
<circle cx="285.3" cy="128.7" r="4.8" fill="#5ba3e8" stroke="#222" stroke-width="0.6"/>
<circle cx="192.6" cy="147.9" r="4.8" fill="#5ba3e8" stroke="#222" stroke-width="0.6"/>
<circle cx="220.9" cy="149.5" r="4.8" fill="#5ba3e8" stroke="#222" stroke-width="0.6"/>
<circle cx="203.1" cy="166.5" r="4.8" fill="#5ba3e8" stroke="#222" stroke-width="0.6"/>
<circle cx="260.4" cy="150.5" r="4.8" fill="#5ba3e8" stroke="#222" stroke-width="0.6"/>
<circle cx="238.6" cy="186.1" r="4.8" fill="#5ba3e8" stroke="#222" stroke-width="0.6"/>
<circle cx="274.4" cy="187.3" r="4.8" fill="#5ba3e8" stroke="#222" stroke-width="0.6"/>
<circle cx="107" cy="92.7" r="4.8" fill="#5ba3e8" stroke="#222" stroke-width="0.6"/>
<circle cx="110.4" cy="214" r="4.8" fill="#5ba3e8" stroke="#222" stroke-width="0.6"/>
<circle cx="204.2" cy="215.8" r="4.8" fill="#5ba3e8" stroke="#222" stroke-width="0.6"/>
<circle cx="233" cy="221" r="4.8" fill="#5ba3e8" stroke="#222" stroke-width="0.6"/>
<circle cx="227.9" cy="236.9" r="4.8" fill="#5ba3e8" stroke="#222" stroke-width="0.6"/>
<circle cx="178.1" cy="247.2" r="4.8" fill="#5ba3e8" stroke="#222" stroke-width="0.6"/>
<circle cx="195.5" cy="261.3" r="4.8" fill="#5ba3e8" stroke="#222" stroke-width="0.6"/>
<circle cx="256.5" cy="213.3" r="4.8" fill="#5ba3e8" stroke="#222" stroke-width="0.6"/>
<circle cx="269.6" cy="214.1" r="4.8" fill="#5ba3e8" stroke="#222" stroke-width="0.6"/>
<circle cx="279.8" cy="212.6" r="4.8" fill="#5ba3e8" stroke="#222" stroke-width="0.6"/>
<circle cx="272.5" cy="227.1" r="4.8" fill="#5ba3e8" stroke="#222" stroke-width="0.6"/>
<circle cx="272.5" cy="235.1" r="4.8" fill="#5ba3e8" stroke="#222" stroke-width="0.6"/>
<circle cx="285.6" cy="218.4" r="4.8" fill="#5ba3e8" stroke="#222" stroke-width="0.6"/>
<circle cx="288.5" cy="223.5" r="4.8" fill="#5ba3e8" stroke="#222" stroke-width="0.6"/>
<circle cx="294" cy="228.6" r="4.8" fill="#5ba3e8" stroke="#222" stroke-width="0.6"/>
<circle cx="300.8" cy="201" r="4.8" fill="#5ba3e8" stroke="#222" stroke-width="0.6"/>
<circle cx="298.6" cy="189.1" r="4.8" fill="#5ba3e8" stroke="#222" stroke-width="0.6"/>
<circle cx="327.7" cy="193.7" r="4.8" fill="#5ba3e8" stroke="#222" stroke-width="0.6"/>
<circle cx="335" cy="199.5" r="4.8" fill="#5ba3e8" stroke="#222" stroke-width="0.6"/>
<circle cx="310.3" cy="198.1" r="4.8" fill="#5ba3e8" stroke="#222" stroke-width="0.6"/>
<circle cx="319" cy="209.7" r="4.8" fill="#5ba3e8" stroke="#222" stroke-width="0.6"/>
<circle cx="316.1" cy="214.1" r="4.8" fill="#5ba3e8" stroke="#222" stroke-width="0.6"/>
<circle cx="320.4" cy="247.5" r="4.8" fill="#5ba3e8" stroke="#222" stroke-width="0.6"/>
<circle cx="319" cy="253.3" r="4.8" fill="#5ba3e8" stroke="#222" stroke-width="0.6"/>
<circle cx="254.8" cy="260.2" r="4.8" fill="#5ba3e8" stroke="#222" stroke-width="0.6"/>
<circle cx="239.4" cy="280.4" r="4.8" fill="#5ba3e8" stroke="#222" stroke-width="0.6"/>
<circle cx="253.9" cy="296.6" r="4.8" fill="#5ba3e8" stroke="#222" stroke-width="0.6"/>
<circle cx="258" cy="302.7" r="4.8" fill="#5ba3e8" stroke="#222" stroke-width="0.6"/>
<circle cx="259.4" cy="307" r="4.8" fill="#5ba3e8" stroke="#222" stroke-width="0.6"/>
<circle cx="244.2" cy="314.3" r="4.8" fill="#5ba3e8" stroke="#222" stroke-width="0.6"/>
<circle cx="249.3" cy="320.8" r="4.8" fill="#5ba3e8" stroke="#222" stroke-width="0.6"/>
<circle cx="337.6" cy="83.4" r="3.7" fill="#b8eef0" stroke="#222" stroke-width="0.6"/>
<circle cx="345.6" cy="88.8" r="3.7" fill="#b8eef0" stroke="#222" stroke-width="0.6"/>
<circle cx="337.6" cy="97.2" r="3.7" fill="#b8eef0" stroke="#222" stroke-width="0.6"/>
<circle cx="325.5" cy="105.9" r="3.7" fill="#b8eef0" stroke="#222" stroke-width="0.6"/>
<circle cx="319.7" cy="116.1" r="3.7" fill="#b8eef0" stroke="#222" stroke-width="0.6"/>
<circle cx="327" cy="118.1" r="3.7" fill="#b8eef0" stroke="#222" stroke-width="0.6"/>
<circle cx="253.9" cy="128" r="3.7" fill="#b8eef0" stroke="#222" stroke-width="0.6"/>
<circle cx="298.4" cy="131.1" r="3.7" fill="#b8eef0" stroke="#222" stroke-width="0.6"/>
<circle cx="292.1" cy="136" r="3.7" fill="#b8eef0" stroke="#222" stroke-width="0.6"/>
<circle cx="287.7" cy="136.7" r="3.7" fill="#b8eef0" stroke="#222" stroke-width="0.6"/>
<circle cx="188" cy="161.9" r="3.7" fill="#b8eef0" stroke="#222" stroke-width="0.6"/>
<circle cx="268.4" cy="149.1" r="3.7" fill="#b8eef0" stroke="#222" stroke-width="0.6"/>
<circle cx="275" cy="147.9" r="3.7" fill="#b8eef0" stroke="#222" stroke-width="0.6"/>
<circle cx="284.1" cy="150.2" r="3.7" fill="#b8eef0" stroke="#222" stroke-width="0.6"/>
<circle cx="302.3" cy="148.8" r="3.7" fill="#b8eef0" stroke="#222" stroke-width="0.6"/>
<circle cx="294" cy="159" r="3.7" fill="#b8eef0" stroke="#222" stroke-width="0.6"/>
<circle cx="300.1" cy="158.2" r="3.7" fill="#b8eef0" stroke="#222" stroke-width="0.6"/>
<circle cx="307.4" cy="158.2" r="3.7" fill="#b8eef0" stroke="#222" stroke-width="0.6"/>
<circle cx="314.6" cy="158.1" r="3.7" fill="#b8eef0" stroke="#222" stroke-width="0.6"/>
<circle cx="303" cy="169.4" r="3.7" fill="#b8eef0" stroke="#222" stroke-width="0.6"/>
<circle cx="297.2" cy="173.8" r="3.7" fill="#b8eef0" stroke="#222" stroke-width="0.6"/>
<circle cx="275.4" cy="169.1" r="3.7" fill="#b8eef0" stroke="#222" stroke-width="0.6"/>
<circle cx="282.4" cy="167.5" r="3.7" fill="#b8eef0" stroke="#222" stroke-width="0.6"/>
<circle cx="267.8" cy="175" r="3.7" fill="#b8eef0" stroke="#222" stroke-width="0.6"/>
<circle cx="271.8" cy="179.6" r="3.7" fill="#b8eef0" stroke="#222" stroke-width="0.6"/>
<circle cx="253.9" cy="175.2" r="3.7" fill="#b8eef0" stroke="#222" stroke-width="0.6"/>
<circle cx="240.2" cy="175.2" r="3.7" fill="#b8eef0" stroke="#222" stroke-width="0.6"/>
<circle cx="235.5" cy="179.6" r="3.7" fill="#b8eef0" stroke="#222" stroke-width="0.6"/>
<circle cx="260.9" cy="182.8" r="3.7" fill="#b8eef0" stroke="#222" stroke-width="0.6"/>
<circle cx="220.9" cy="211.1" r="3.7" fill="#b8eef0" stroke="#222" stroke-width="0.6"/>
<circle cx="348" cy="70.3" r="3.7" fill="#b8eef0" stroke="#222" stroke-width="0.6"/>
<text x="200.5" y="24.7" text-anchor="middle" textLength="210.2" lengthAdjust="spacingAndGlyphs" style="font-family:'Liberation Sans', sans-serif;font-weight:bold;font-size:17px;fill:#000">Residence fairness index</text>
<circle cx="23.2" cy="243.2" r="8.1" fill="#0a0f8c" stroke="#222" stroke-width="0.7"/>
<text x="39.7" y="246.2" style="font-family:'Liberation Sans', sans-serif;font-size:11.5px;fill:#1a1a1a">&lt;</text>
<text x="49.2" y="246.2" style="font-family:'Liberation Sans', sans-serif;font-size:11.5px;fill:#1a1a1a" textLength="45.8" lengthAdjust="spacingAndGlyphs">4.3×10<tspan baseline-shift="4" style="font-size:7.5px">-1</tspan></text>
<circle cx="23.2" cy="265.2" r="5.6" fill="#1e55cc" stroke="#222" stroke-width="0.7"/>
<text x="36.0" y="266.4" style="font-family:'Liberation Sans', sans-serif;font-size:11.5px;fill:#1a1a1a" textLength="99.5" lengthAdjust="spacingAndGlyphs">4.3×10<tspan baseline-shift="4" style="font-size:7.5px">-1</tspan>–5.5×10<tspan baseline-shift="4" style="font-size:7.5px">-1</tspan></text>
<circle cx="23.2" cy="285.1" r="4.9" fill="#5ba3e8" stroke="#222" stroke-width="0.7"/>
<text x="36.0" y="287.2" style="font-family:'Liberation Sans', sans-serif;font-size:11.5px;fill:#1a1a1a" textLength="99.5" lengthAdjust="spacingAndGlyphs">5.5×10<tspan baseline-shift="4" style="font-size:7.5px">-1</tspan>–6.3×10<tspan baseline-shift="4" style="font-size:7.5px">-1</tspan></text>
<circle cx="23.2" cy="304.3" r="3.45" fill="#b8eef0" stroke="#222" stroke-width="0.7"/>
<text x="36.0" y="308.0" style="font-family:'Liberation Sans', sans-serif;font-size:11.5px;fill:#1a1a1a" textLength="99.5" lengthAdjust="spacingAndGlyphs">6.3×10<tspan baseline-shift="4" style="font-size:7.5px">-1</tspan>–7.7×10<tspan baseline-shift="4" style="font-size:7.5px">-1</tspan></text>
</g><g transform="translate(902,969) scale(1.0050,1.0029)">
<use href="#base"/>
<circle cx="345.6" cy="88.8" r="9.0" fill="#0a0f8c" stroke="#222" stroke-width="0.6"/>
<circle cx="325.5" cy="105.9" r="9.0" fill="#0a0f8c" stroke="#222" stroke-width="0.6"/>
<circle cx="285.3" cy="128.7" r="9.0" fill="#0a0f8c" stroke="#222" stroke-width="0.6"/>
<circle cx="292.1" cy="136" r="9.0" fill="#0a0f8c" stroke="#222" stroke-width="0.6"/>
<circle cx="294" cy="159" r="9.0" fill="#0a0f8c" stroke="#222" stroke-width="0.6"/>
<circle cx="271.8" cy="179.6" r="9.0" fill="#0a0f8c" stroke="#222" stroke-width="0.6"/>
<circle cx="279.8" cy="212.6" r="9.0" fill="#0a0f8c" stroke="#222" stroke-width="0.6"/>
<circle cx="327.7" cy="193.7" r="9.0" fill="#0a0f8c" stroke="#222" stroke-width="0.6"/>
<circle cx="335" cy="199.5" r="9.0" fill="#0a0f8c" stroke="#222" stroke-width="0.6"/>
<circle cx="298.4" cy="131.1" r="6.3" fill="#1e55cc" stroke="#222" stroke-width="0.6"/>
<circle cx="260.4" cy="150.5" r="6.3" fill="#1e55cc" stroke="#222" stroke-width="0.6"/>
<circle cx="317.5" cy="150.2" r="6.3" fill="#1e55cc" stroke="#222" stroke-width="0.6"/>
<circle cx="314.6" cy="158.1" r="6.3" fill="#1e55cc" stroke="#222" stroke-width="0.6"/>
<circle cx="297.2" cy="173.8" r="6.3" fill="#1e55cc" stroke="#222" stroke-width="0.6"/>
<circle cx="274.4" cy="187.3" r="6.3" fill="#1e55cc" stroke="#222" stroke-width="0.6"/>
<circle cx="269.6" cy="214.1" r="6.3" fill="#1e55cc" stroke="#222" stroke-width="0.6"/>
<circle cx="285.6" cy="218.4" r="6.3" fill="#1e55cc" stroke="#222" stroke-width="0.6"/>
<circle cx="288.5" cy="223.5" r="6.3" fill="#1e55cc" stroke="#222" stroke-width="0.6"/>
<circle cx="294" cy="228.6" r="6.3" fill="#1e55cc" stroke="#222" stroke-width="0.6"/>
<circle cx="300.8" cy="201" r="6.3" fill="#1e55cc" stroke="#222" stroke-width="0.6"/>
<circle cx="298.6" cy="189.1" r="6.3" fill="#1e55cc" stroke="#222" stroke-width="0.6"/>
<circle cx="310.3" cy="198.1" r="6.3" fill="#1e55cc" stroke="#222" stroke-width="0.6"/>
<circle cx="316.1" cy="214.1" r="6.3" fill="#1e55cc" stroke="#222" stroke-width="0.6"/>
<circle cx="322.6" cy="220.6" r="6.3" fill="#1e55cc" stroke="#222" stroke-width="0.6"/>
<circle cx="337.1" cy="264.9" r="6.3" fill="#1e55cc" stroke="#222" stroke-width="0.6"/>
<circle cx="279.8" cy="273.6" r="6.3" fill="#1e55cc" stroke="#222" stroke-width="0.6"/>
<circle cx="337.6" cy="83.4" r="4.8" fill="#5ba3e8" stroke="#222" stroke-width="0.6"/>
<circle cx="327" cy="118.1" r="4.8" fill="#5ba3e8" stroke="#222" stroke-width="0.6"/>
<circle cx="323.3" cy="128.5" r="4.8" fill="#5ba3e8" stroke="#222" stroke-width="0.6"/>
<circle cx="287.7" cy="136.7" r="4.8" fill="#5ba3e8" stroke="#222" stroke-width="0.6"/>
<circle cx="203.1" cy="166.5" r="4.8" fill="#5ba3e8" stroke="#222" stroke-width="0.6"/>
<circle cx="275" cy="147.9" r="4.8" fill="#5ba3e8" stroke="#222" stroke-width="0.6"/>
<circle cx="284.1" cy="150.2" r="4.8" fill="#5ba3e8" stroke="#222" stroke-width="0.6"/>
<circle cx="300.1" cy="158.2" r="4.8" fill="#5ba3e8" stroke="#222" stroke-width="0.6"/>
<circle cx="307.4" cy="158.2" r="4.8" fill="#5ba3e8" stroke="#222" stroke-width="0.6"/>
<circle cx="303" cy="169.4" r="4.8" fill="#5ba3e8" stroke="#222" stroke-width="0.6"/>
<circle cx="275.4" cy="169.1" r="4.8" fill="#5ba3e8" stroke="#222" stroke-width="0.6"/>
<circle cx="238.6" cy="186.1" r="4.8" fill="#5ba3e8" stroke="#222" stroke-width="0.6"/>
<circle cx="260.9" cy="182.8" r="4.8" fill="#5ba3e8" stroke="#222" stroke-width="0.6"/>
<circle cx="107" cy="92.7" r="4.8" fill="#5ba3e8" stroke="#222" stroke-width="0.6"/>
<circle cx="204.2" cy="215.8" r="4.8" fill="#5ba3e8" stroke="#222" stroke-width="0.6"/>
<circle cx="210" cy="227.9" r="4.8" fill="#5ba3e8" stroke="#222" stroke-width="0.6"/>
<circle cx="233" cy="221" r="4.8" fill="#5ba3e8" stroke="#222" stroke-width="0.6"/>
<circle cx="187.5" cy="248.2" r="4.8" fill="#5ba3e8" stroke="#222" stroke-width="0.6"/>
<circle cx="178.1" cy="247.2" r="4.8" fill="#5ba3e8" stroke="#222" stroke-width="0.6"/>
<circle cx="195.5" cy="261.3" r="4.8" fill="#5ba3e8" stroke="#222" stroke-width="0.6"/>
<circle cx="256.5" cy="213.3" r="4.8" fill="#5ba3e8" stroke="#222" stroke-width="0.6"/>
<circle cx="272.5" cy="235.1" r="4.8" fill="#5ba3e8" stroke="#222" stroke-width="0.6"/>
<circle cx="314.6" cy="190.8" r="4.8" fill="#5ba3e8" stroke="#222" stroke-width="0.6"/>
<circle cx="317.5" cy="199.5" r="4.8" fill="#5ba3e8" stroke="#222" stroke-width="0.6"/>
<circle cx="321.9" cy="203.9" r="4.8" fill="#5ba3e8" stroke="#222" stroke-width="0.6"/>
<circle cx="319" cy="209.7" r="4.8" fill="#5ba3e8" stroke="#222" stroke-width="0.6"/>
<circle cx="329.1" cy="205.3" r="4.8" fill="#5ba3e8" stroke="#222" stroke-width="0.6"/>
<circle cx="332.8" cy="213.8" r="4.8" fill="#5ba3e8" stroke="#222" stroke-width="0.6"/>
<circle cx="304.5" cy="268.5" r="4.8" fill="#5ba3e8" stroke="#222" stroke-width="0.6"/>
<circle cx="239.4" cy="280.4" r="4.8" fill="#5ba3e8" stroke="#222" stroke-width="0.6"/>
<circle cx="275.4" cy="278.7" r="4.8" fill="#5ba3e8" stroke="#222" stroke-width="0.6"/>
<circle cx="288.5" cy="285.2" r="4.8" fill="#5ba3e8" stroke="#222" stroke-width="0.6"/>
<circle cx="278.3" cy="288.1" r="4.8" fill="#5ba3e8" stroke="#222" stroke-width="0.6"/>
<circle cx="284.1" cy="280.9" r="4.8" fill="#5ba3e8" stroke="#222" stroke-width="0.6"/>
<circle cx="253.9" cy="296.6" r="4.8" fill="#5ba3e8" stroke="#222" stroke-width="0.6"/>
<circle cx="258" cy="302.7" r="4.8" fill="#5ba3e8" stroke="#222" stroke-width="0.6"/>
<circle cx="259.4" cy="307" r="4.8" fill="#5ba3e8" stroke="#222" stroke-width="0.6"/>
<circle cx="244.2" cy="314.3" r="4.8" fill="#5ba3e8" stroke="#222" stroke-width="0.6"/>
<circle cx="255.8" cy="315.7" r="4.8" fill="#5ba3e8" stroke="#222" stroke-width="0.6"/>
<circle cx="249.3" cy="320.8" r="4.8" fill="#5ba3e8" stroke="#222" stroke-width="0.6"/>
<circle cx="348" cy="70.3" r="4.8" fill="#5ba3e8" stroke="#222" stroke-width="0.6"/>
<circle cx="319.7" cy="116.1" r="3.7" fill="#b8eef0" stroke="#222" stroke-width="0.6"/>
<circle cx="253.9" cy="128" r="3.7" fill="#b8eef0" stroke="#222" stroke-width="0.6"/>
<circle cx="261.6" cy="136" r="3.7" fill="#b8eef0" stroke="#222" stroke-width="0.6"/>
<circle cx="220.9" cy="149.5" r="3.7" fill="#b8eef0" stroke="#222" stroke-width="0.6"/>
<circle cx="188" cy="161.9" r="3.7" fill="#b8eef0" stroke="#222" stroke-width="0.6"/>
<circle cx="268.4" cy="149.1" r="3.7" fill="#b8eef0" stroke="#222" stroke-width="0.6"/>
<circle cx="302.3" cy="148.8" r="3.7" fill="#b8eef0" stroke="#222" stroke-width="0.6"/>
<circle cx="325.5" cy="149.8" r="3.7" fill="#b8eef0" stroke="#222" stroke-width="0.6"/>
<circle cx="282.4" cy="167.5" r="3.7" fill="#b8eef0" stroke="#222" stroke-width="0.6"/>
<circle cx="267.8" cy="175" r="3.7" fill="#b8eef0" stroke="#222" stroke-width="0.6"/>
<circle cx="253.9" cy="175.2" r="3.7" fill="#b8eef0" stroke="#222" stroke-width="0.6"/>
<circle cx="240.2" cy="175.2" r="3.7" fill="#b8eef0" stroke="#222" stroke-width="0.6"/>
<circle cx="235.5" cy="179.6" r="3.7" fill="#b8eef0" stroke="#222" stroke-width="0.6"/>
<circle cx="110.4" cy="214" r="3.7" fill="#b8eef0" stroke="#222" stroke-width="0.6"/>
<circle cx="220.9" cy="211.1" r="3.7" fill="#b8eef0" stroke="#222" stroke-width="0.6"/>
<circle cx="212.2" cy="223.5" r="3.7" fill="#b8eef0" stroke="#222" stroke-width="0.6"/>
<circle cx="227.9" cy="236.9" r="3.7" fill="#b8eef0" stroke="#222" stroke-width="0.6"/>
<circle cx="225.3" cy="248.5" r="3.7" fill="#b8eef0" stroke="#222" stroke-width="0.6"/>
<circle cx="273.2" cy="219.9" r="3.7" fill="#b8eef0" stroke="#222" stroke-width="0.6"/>
<circle cx="272.5" cy="227.1" r="3.7" fill="#b8eef0" stroke="#222" stroke-width="0.6"/>
<circle cx="321.9" cy="192.3" r="3.7" fill="#b8eef0" stroke="#222" stroke-width="0.6"/>
<circle cx="327.7" cy="230" r="3.7" fill="#b8eef0" stroke="#222" stroke-width="0.6"/>
<circle cx="323.3" cy="212.6" r="3.7" fill="#b8eef0" stroke="#222" stroke-width="0.6"/>
<circle cx="320.4" cy="247.5" r="3.7" fill="#b8eef0" stroke="#222" stroke-width="0.6"/>
<circle cx="319" cy="253.3" r="3.7" fill="#b8eef0" stroke="#222" stroke-width="0.6"/>
<circle cx="313.9" cy="260.5" r="3.7" fill="#b8eef0" stroke="#222" stroke-width="0.6"/>
<circle cx="303" cy="272.9" r="3.7" fill="#b8eef0" stroke="#222" stroke-width="0.6"/>
<circle cx="254.8" cy="260.2" r="3.7" fill="#b8eef0" stroke="#222" stroke-width="0.6"/>
<circle cx="265.7" cy="281.2" r="3.7" fill="#b8eef0" stroke="#222" stroke-width="0.6"/>
<circle cx="287" cy="275.8" r="3.7" fill="#b8eef0" stroke="#222" stroke-width="0.6"/>
<circle cx="279.8" cy="283.8" r="3.7" fill="#b8eef0" stroke="#222" stroke-width="0.6"/>
<circle cx="247.1" cy="291.8" r="3.7" fill="#b8eef0" stroke="#222" stroke-width="0.6"/>
<circle cx="250.7" cy="309.9" r="3.7" fill="#b8eef0" stroke="#222" stroke-width="0.6"/>
<text x="202.8" y="24.7" text-anchor="middle" textLength="242.5" lengthAdjust="spacingAndGlyphs" style="font-family:'Liberation Sans', sans-serif;font-weight:bold;font-size:17px;fill:#000">Per capita Infrastructure area</text>
<circle cx="23.4" cy="246.1" r="8.1" fill="#0a0f8c" stroke="#222" stroke-width="0.7"/>
<text x="37.3" y="248.5" style="font-family:'Liberation Sans', sans-serif;font-size:11.5px;fill:#1a1a1a" textLength="99.5" lengthAdjust="spacingAndGlyphs">1.7×10<tspan baseline-shift="4" style="font-size:7.5px">-2</tspan>–5.3×10<tspan baseline-shift="4" style="font-size:7.5px">-1</tspan></text>
<circle cx="23.4" cy="268.1" r="5.6" fill="#1e55cc" stroke="#222" stroke-width="0.7"/>
<text x="37.3" y="269.3" style="font-family:'Liberation Sans', sans-serif;font-size:11.5px;fill:#1a1a1a" textLength="99.5" lengthAdjust="spacingAndGlyphs">8.6×10<tspan baseline-shift="4" style="font-size:7.5px">-2</tspan>–1.7×10<tspan baseline-shift="4" style="font-size:7.5px">-1</tspan></text>
<circle cx="23.4" cy="288.0" r="4.9" fill="#5ba3e8" stroke="#222" stroke-width="0.7"/>
<text x="37.3" y="290.1" style="font-family:'Liberation Sans', sans-serif;font-size:11.5px;fill:#1a1a1a" textLength="99.5" lengthAdjust="spacingAndGlyphs">3.2×10<tspan baseline-shift="4" style="font-size:7.5px">-2</tspan>–8.6×10<tspan baseline-shift="4" style="font-size:7.5px">-2</tspan></text>
<circle cx="23.4" cy="307.6" r="3.45" fill="#b8eef0" stroke="#222" stroke-width="0.7"/>
<text x="39.7" y="310.9" style="font-family:'Liberation Sans', sans-serif;font-size:11.5px;fill:#1a1a1a">&lt;</text>
<text x="49.2" y="310.9" style="font-family:'Liberation Sans', sans-serif;font-size:11.5px;fill:#1a1a1a" textLength="47" lengthAdjust="spacingAndGlyphs">3.2×10<tspan baseline-shift="4" style="font-size:7.5px">-2</tspan></text>
</g>
</svg>
</body></html>
